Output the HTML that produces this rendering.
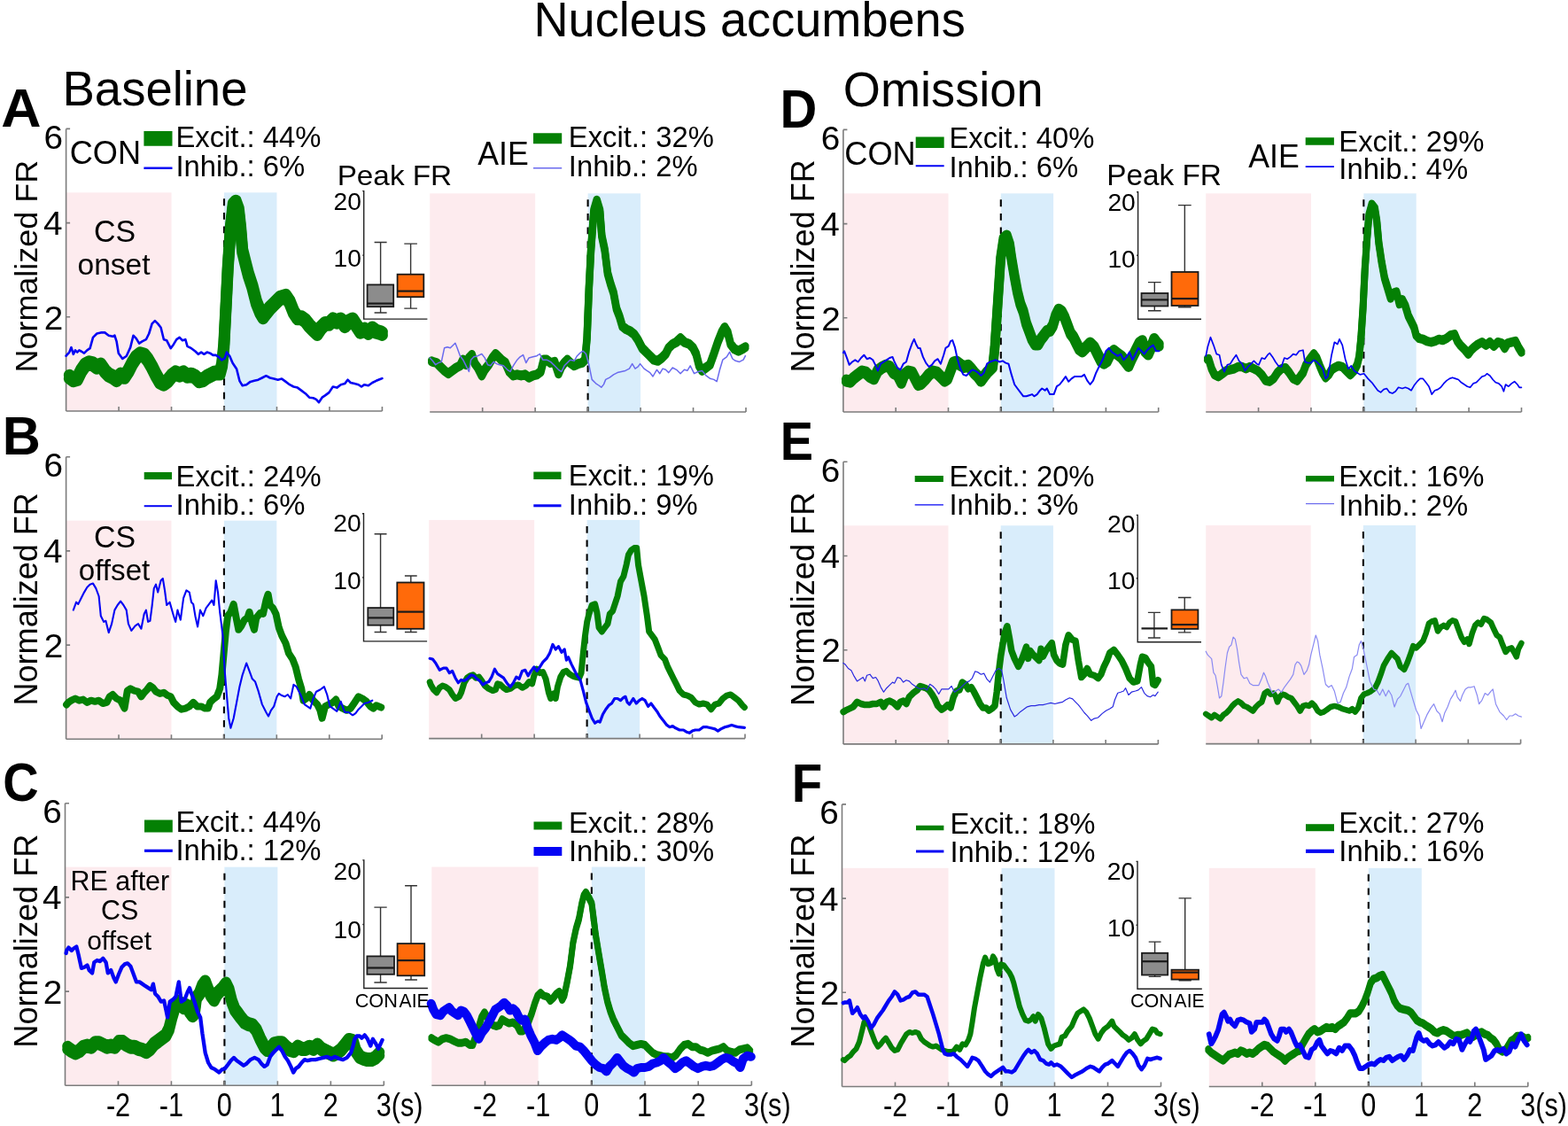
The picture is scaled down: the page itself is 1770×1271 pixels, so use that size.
<!DOCTYPE html>
<html><head><meta charset="utf-8"><style>
html,body{margin:0;padding:0;background:#fff;}
svg{display:block;}
text{font-family:"Liberation Sans", Arial, sans-serif;}
</style></head><body>
<svg width="1770" height="1271" viewBox="0 0 1770 1271">
<rect width="1770" height="1271" fill="#fff"/>
<rect x="74.60" y="217.35" width="118.94" height="246.65" fill="#fdebee"/>
<rect x="253.01" y="217.35" width="59.47" height="246.65" fill="#d9edfb"/>
<path d="M253.01,224.35V464.00" stroke="#000" stroke-width="2.1" stroke-dasharray="7.8,7.8" fill="none"/>
<rect x="485.20" y="218.35" width="118.94" height="246.65" fill="#fdebee"/>
<rect x="663.61" y="218.35" width="59.47" height="246.65" fill="#d9edfb"/>
<path d="M663.61,225.35V465.00" stroke="#000" stroke-width="2.1" stroke-dasharray="7.8,7.8" fill="none"/>
<rect x="74.60" y="587.65" width="118.86" height="246.65" fill="#fdebee"/>
<rect x="252.89" y="587.65" width="59.43" height="246.65" fill="#d9edfb"/>
<path d="M252.89,594.65V834.30" stroke="#000" stroke-width="2.1" stroke-dasharray="7.8,7.8" fill="none"/>
<rect x="484.20" y="586.95" width="118.94" height="246.65" fill="#fdebee"/>
<rect x="662.61" y="586.95" width="59.47" height="246.65" fill="#d9edfb"/>
<path d="M662.61,593.95V833.60" stroke="#000" stroke-width="2.1" stroke-dasharray="7.8,7.8" fill="none"/>
<rect x="73.50" y="978.65" width="119.94" height="246.65" fill="#fdebee"/>
<rect x="253.41" y="978.65" width="59.97" height="246.65" fill="#d9edfb"/>
<path d="M253.41,985.65V1225.30" stroke="#000" stroke-width="2.1" stroke-dasharray="7.8,7.8" fill="none"/>
<rect x="487.30" y="978.55" width="120.36" height="246.65" fill="#fdebee"/>
<rect x="667.84" y="978.55" width="60.18" height="246.65" fill="#d9edfb"/>
<path d="M667.84,985.55V1225.20" stroke="#000" stroke-width="2.1" stroke-dasharray="7.8,7.8" fill="none"/>
<rect x="951.90" y="218.35" width="118.60" height="246.65" fill="#fdebee"/>
<rect x="1129.80" y="218.35" width="59.30" height="246.65" fill="#d9edfb"/>
<path d="M1129.80,225.35V465.00" stroke="#000" stroke-width="2.1" stroke-dasharray="7.8,7.8" fill="none"/>
<rect x="1361.20" y="218.35" width="118.76" height="246.65" fill="#fdebee"/>
<rect x="1539.34" y="218.35" width="59.38" height="246.65" fill="#d9edfb"/>
<path d="M1539.34,225.35V465.00" stroke="#000" stroke-width="2.1" stroke-dasharray="7.8,7.8" fill="none"/>
<rect x="952.00" y="593.25" width="118.46" height="246.65" fill="#fdebee"/>
<rect x="1129.69" y="593.25" width="59.23" height="246.65" fill="#d9edfb"/>
<path d="M1129.69,600.25V839.90" stroke="#000" stroke-width="2.1" stroke-dasharray="7.8,7.8" fill="none"/>
<rect x="1361.20" y="592.95" width="118.46" height="246.65" fill="#fdebee"/>
<rect x="1538.89" y="592.95" width="59.23" height="246.65" fill="#d9edfb"/>
<path d="M1538.89,599.95V839.60" stroke="#000" stroke-width="2.1" stroke-dasharray="7.8,7.8" fill="none"/>
<rect x="950.50" y="979.85" width="120.00" height="246.65" fill="#fdebee"/>
<rect x="1130.50" y="979.85" width="60.00" height="246.65" fill="#d9edfb"/>
<path d="M1130.50,986.85V1226.50" stroke="#000" stroke-width="2.1" stroke-dasharray="7.8,7.8" fill="none"/>
<rect x="1364.80" y="979.85" width="120.00" height="246.65" fill="#fdebee"/>
<rect x="1544.80" y="979.85" width="60.00" height="246.65" fill="#d9edfb"/>
<path d="M1544.80,986.85V1226.50" stroke="#000" stroke-width="2.1" stroke-dasharray="7.8,7.8" fill="none"/>
<text transform="translate(602.47,41.20) scale(0.9649,1)" style="font-size:56.09px;" fill="#000" >Nucleus accumbens</text>
<text transform="translate(70.54,119.10) scale(0.9763,1)" style="font-size:55.80px;" fill="#000" >Baseline</text>
<text transform="translate(951.76,119.50) scale(0.9804,1)" style="font-size:55.29px;" fill="#000" >Omission</text>
<text transform="translate(1.23,143.30) scale(1.0201,1)" style="font-size:61.45px;font-weight:bold;" fill="#000" >A</text>
<text transform="translate(2.72,513.20) scale(0.9757,1)" style="font-size:61.16px;font-weight:bold;" fill="#000" >B</text>
<text transform="translate(3.26,904.20) scale(0.9118,1)" style="font-size:61.29px;font-weight:bold;" fill="#000" >C</text>
<text transform="translate(880.44,143.80) scale(0.9465,1)" style="font-size:61.16px;font-weight:bold;" fill="#000" >D</text>
<text transform="translate(880.76,518.60) scale(0.9123,1)" style="font-size:61.30px;font-weight:bold;" fill="#000" >E</text>
<text transform="translate(893.73,905.00) scale(0.9277,1)" style="font-size:60.87px;font-weight:bold;" fill="#000" >F</text>
<text transform="translate(49.84,371.56) scale(1.03,1)" style="font-size:37.6px">2</text>
<text transform="translate(49.07,265.17) scale(1.03,1)" style="font-size:37.6px">4</text>
<text transform="translate(49.46,167.77) scale(1.03,1)" style="font-size:37.6px">6</text>
<text transform="translate(42.20,420.48) rotate(-90)" style="font-size:35.95px">Normalized FR</text>
<text transform="translate(49.84,741.86) scale(1.03,1)" style="font-size:37.6px">2</text>
<text transform="translate(49.07,635.47) scale(1.03,1)" style="font-size:37.6px">4</text>
<text transform="translate(49.46,538.07) scale(1.03,1)" style="font-size:37.6px">6</text>
<text transform="translate(42.20,796.48) rotate(-90)" style="font-size:36.06px">Normalized FR</text>
<text transform="translate(48.74,1132.86) scale(1.03,1)" style="font-size:37.6px">2</text>
<text transform="translate(47.97,1026.47) scale(1.03,1)" style="font-size:37.6px">4</text>
<text transform="translate(48.36,929.07) scale(1.03,1)" style="font-size:37.6px">6</text>
<text transform="translate(42.20,1182.70) rotate(-90)" style="font-size:36.19px">Normalized FR</text>
<text transform="translate(927.14,372.56) scale(1.03,1)" style="font-size:37.6px">2</text>
<text transform="translate(926.37,266.17) scale(1.03,1)" style="font-size:37.6px">4</text>
<text transform="translate(926.76,168.77) scale(1.03,1)" style="font-size:37.6px">6</text>
<text transform="translate(918.70,420.48) rotate(-90)" style="font-size:36.02px">Normalized FR</text>
<text transform="translate(927.24,747.46) scale(1.03,1)" style="font-size:37.6px">2</text>
<text transform="translate(926.47,641.07) scale(1.03,1)" style="font-size:37.6px">4</text>
<text transform="translate(926.86,543.67) scale(1.03,1)" style="font-size:37.6px">6</text>
<text transform="translate(918.70,796.90) rotate(-90)" style="font-size:36.19px">Normalized FR</text>
<text transform="translate(925.74,1134.06) scale(1.03,1)" style="font-size:37.6px">2</text>
<text transform="translate(924.97,1027.67) scale(1.03,1)" style="font-size:37.6px">4</text>
<text transform="translate(925.36,930.27) scale(1.03,1)" style="font-size:37.6px">6</text>
<text transform="translate(918.70,1182.70) rotate(-90)" style="font-size:36.19px">Normalized FR</text>
<text transform="translate(119.92,1259.80) scale(0.81,1)" style="font-size:37.8px">-2</text>
<text transform="translate(179.81,1259.80) scale(0.81,1)" style="font-size:37.8px">-1</text>
<text transform="translate(244.84,1259.80) scale(0.81,1)" style="font-size:37.8px">0</text>
<text transform="translate(304.42,1259.80) scale(0.81,1)" style="font-size:37.8px">1</text>
<text transform="translate(364.85,1259.80) scale(0.81,1)" style="font-size:37.8px">2</text>
<text transform="translate(424.82,1259.80) scale(0.81,1)" style="font-size:37.8px">3(s)</text>
<text transform="translate(533.93,1259.80) scale(0.81,1)" style="font-size:37.8px">-2</text>
<text transform="translate(594.03,1259.80) scale(0.81,1)" style="font-size:37.8px">-1</text>
<text transform="translate(659.27,1259.80) scale(0.81,1)" style="font-size:37.8px">0</text>
<text transform="translate(719.06,1259.80) scale(0.81,1)" style="font-size:37.8px">1</text>
<text transform="translate(779.70,1259.80) scale(0.81,1)" style="font-size:37.8px">2</text>
<text transform="translate(839.88,1259.80) scale(0.81,1)" style="font-size:37.8px">3(s)</text>
<text transform="translate(996.95,1259.80) scale(0.81,1)" style="font-size:37.8px">-2</text>
<text transform="translate(1056.87,1259.80) scale(0.81,1)" style="font-size:37.8px">-1</text>
<text transform="translate(1121.93,1259.80) scale(0.81,1)" style="font-size:37.8px">0</text>
<text transform="translate(1181.54,1259.80) scale(0.81,1)" style="font-size:37.8px">1</text>
<text transform="translate(1242.00,1259.80) scale(0.81,1)" style="font-size:37.8px">2</text>
<text transform="translate(1302.00,1259.80) scale(0.81,1)" style="font-size:37.8px">3(s)</text>
<text transform="translate(1411.25,1259.80) scale(0.81,1)" style="font-size:37.8px">-2</text>
<text transform="translate(1471.17,1259.80) scale(0.81,1)" style="font-size:37.8px">-1</text>
<text transform="translate(1536.23,1259.80) scale(0.81,1)" style="font-size:37.8px">0</text>
<text transform="translate(1595.84,1259.80) scale(0.81,1)" style="font-size:37.8px">1</text>
<text transform="translate(1656.30,1259.80) scale(0.81,1)" style="font-size:37.8px">2</text>
<text transform="translate(1716.30,1259.80) scale(0.81,1)" style="font-size:37.8px">3(s)</text>
<text transform="translate(198.38,166.30) scale(1.0,1)" style="font-size:32.8px">Excit.: 44%</text>
<text transform="translate(198.38,199.00) scale(1.0,1)" style="font-size:32.8px">Inhib.: 6%</text>
<path d="M162.40,156.40H194.50" stroke="#048004" stroke-width="16.8"/>
<path d="M162.40,189.70H194.50" stroke="#0404f4" stroke-width="2.4"/>
<text transform="translate(641.78,166.40) scale(1.0,1)" style="font-size:32.8px">Excit.: 32%</text>
<text transform="translate(641.78,198.60) scale(1.0,1)" style="font-size:32.8px">Inhib.: 2%</text>
<path d="M602.00,156.20H634.20" stroke="#048004" stroke-width="12.0"/>
<path d="M602.00,189.80H634.20" stroke="#6a6aee" stroke-width="1.6"/>
<text transform="translate(198.58,549.20) scale(1.0,1)" style="font-size:32.8px">Excit.: 24%</text>
<text transform="translate(198.58,580.70) scale(1.0,1)" style="font-size:32.8px">Inhib.: 6%</text>
<path d="M162.70,537.10H194.00" stroke="#048004" stroke-width="8.2"/>
<path d="M162.70,571.20H194.00" stroke="#0404f4" stroke-width="2.0"/>
<text transform="translate(641.78,548.10) scale(1.0,1)" style="font-size:32.8px">Excit.: 19%</text>
<text transform="translate(641.78,580.70) scale(1.0,1)" style="font-size:32.8px">Inhib.: 9%</text>
<path d="M602.30,536.80H633.50" stroke="#048004" stroke-width="8.5"/>
<path d="M602.30,570.80H633.50" stroke="#0404f4" stroke-width="3.0"/>
<text transform="translate(198.38,939.40) scale(1.0,1)" style="font-size:32.8px">Excit.: 44%</text>
<text transform="translate(198.38,971.20) scale(1.0,1)" style="font-size:32.8px">Inhib.: 12%</text>
<path d="M163.00,932.50H194.80" stroke="#048004" stroke-width="14.0"/>
<path d="M163.00,960.30H194.80" stroke="#0404f4" stroke-width="3.2"/>
<text transform="translate(641.98,939.50) scale(1.0,1)" style="font-size:32.8px">Excit.: 28%</text>
<text transform="translate(641.98,971.60) scale(1.0,1)" style="font-size:32.8px">Inhib.: 30%</text>
<path d="M602.50,932.00H634.30" stroke="#048004" stroke-width="9.0"/>
<path d="M602.50,960.90H634.30" stroke="#0404f4" stroke-width="10.0"/>
<text transform="translate(1071.38,167.10) scale(1.0,1)" style="font-size:32.8px">Excit.: 40%</text>
<text transform="translate(1071.38,199.70) scale(1.0,1)" style="font-size:32.8px">Inhib.: 6%</text>
<path d="M1033.70,160.80H1065.70" stroke="#048004" stroke-width="12.6"/>
<path d="M1033.70,187.30H1065.70" stroke="#0404f4" stroke-width="2.0"/>
<text transform="translate(1511.28,170.70) scale(1.0,1)" style="font-size:32.8px">Excit.: 29%</text>
<text transform="translate(1511.28,202.00) scale(1.0,1)" style="font-size:32.8px">Inhib.: 4%</text>
<path d="M1473.70,159.60H1505.90" stroke="#048004" stroke-width="8.5"/>
<path d="M1473.70,188.10H1505.90" stroke="#0404f4" stroke-width="1.6"/>
<text transform="translate(1071.48,549.20) scale(1.0,1)" style="font-size:32.8px">Excit.: 20%</text>
<text transform="translate(1071.48,581.10) scale(1.0,1)" style="font-size:32.8px">Inhib.: 3%</text>
<path d="M1032.70,540.60H1064.90" stroke="#048004" stroke-width="7.0"/>
<path d="M1032.70,569.80H1064.90" stroke="#0404f4" stroke-width="1.2"/>
<text transform="translate(1511.28,548.80) scale(1.0,1)" style="font-size:32.8px">Excit.: 16%</text>
<text transform="translate(1511.28,581.80) scale(1.0,1)" style="font-size:32.8px">Inhib.: 2%</text>
<path d="M1474.00,540.30H1506.00" stroke="#048004" stroke-width="6.5"/>
<path d="M1474.00,568.60H1506.00" stroke="#6a6aee" stroke-width="1.2"/>
<text transform="translate(1072.38,941.00) scale(1.0,1)" style="font-size:32.8px">Excit.: 18%</text>
<text transform="translate(1072.38,972.60) scale(1.0,1)" style="font-size:32.8px">Inhib.: 12%</text>
<path d="M1034.00,934.50H1065.40" stroke="#048004" stroke-width="5.5"/>
<path d="M1034.00,961.00H1065.40" stroke="#0404f4" stroke-width="3.0"/>
<text transform="translate(1511.28,940.30) scale(1.0,1)" style="font-size:32.8px">Excit.: 27%</text>
<text transform="translate(1511.28,972.40) scale(1.0,1)" style="font-size:32.8px">Inhib.: 16%</text>
<path d="M1474.00,934.20H1506.00" stroke="#048004" stroke-width="8.0"/>
<path d="M1474.00,960.80H1506.00" stroke="#0404f4" stroke-width="4.2"/>
<text transform="translate(78.79,185.40) scale(0.9652,1)" style="font-size:37.43px;" fill="#000" >CON</text>
<text transform="translate(953.29,186.20) scale(0.9640,1)" style="font-size:37.57px;" fill="#000" >CON</text>
<text transform="translate(539.30,185.50) scale(0.9539,1)" style="font-size:37.39px;" fill="#000" >AIE</text>
<text transform="translate(1409.30,189.30) scale(0.9576,1)" style="font-size:37.25px;" fill="#000" >AIE</text>
<text transform="translate(380.64,208.50) scale(1.0352,1)" style="font-size:32.17px;" fill="#000" >Peak FR</text>
<text transform="translate(1249.13,208.80) scale(1.0140,1)" style="font-size:32.90px;" fill="#000" >Peak FR</text>
<text transform="translate(106.01,272.50) scale(0.9880,1)" style="font-size:34.29px;" fill="#000" >CS</text>
<text transform="translate(87.46,309.60) scale(0.9877,1)" style="font-size:34.00px;" fill="#000" >onset</text>
<text transform="translate(106.01,617.70) scale(0.9759,1)" style="font-size:34.71px;" fill="#000" >CS</text>
<text x="88.77" y="654.60" style="font-size:33.20px;" fill="#000" >offset</text>
<text x="79.57" y="1004.70" style="font-size:30.43px;" fill="#000" >RE after</text>
<text transform="translate(113.98,1038.00) scale(0.9827,1)" style="font-size:31.00px;" fill="#000" >CS</text>
<text x="98.19" y="1071.50" style="font-size:30.00px;" fill="#000" >offset</text>
<path d="M74.60,464.00H431.42M134.07,464.00v-5M193.54,464.00v-5M253.01,464.00v-5M312.48,464.00v-5M371.95,464.00v-5M431.42,464.00v-5M74.60,464.00V145.40M74.60,357.80h4.5M74.60,251.60h4.5M74.60,145.40h4.5" stroke="#7c7c7c" stroke-width="1.6" fill="none"/>
<path d="M485.20,465.00H842.02M544.67,465.00v-5M604.14,465.00v-5M663.61,465.00v-5M723.08,465.00v-5M782.55,465.00v-5M842.02,465.00v-5" stroke="#7c7c7c" stroke-width="1.6" fill="none"/>
<path d="M74.60,834.30H431.18M134.03,834.30v-5M193.46,834.30v-5M252.89,834.30v-5M312.32,834.30v-5M371.75,834.30v-5M431.18,834.30v-5M74.60,834.30V515.70M74.60,728.10h4.5M74.60,621.90h4.5M74.60,515.70h4.5" stroke="#7c7c7c" stroke-width="1.6" fill="none"/>
<path d="M484.20,833.60H841.02M543.67,833.60v-5M603.14,833.60v-5M662.61,833.60v-5M722.08,833.60v-5M781.55,833.60v-5M841.02,833.60v-5" stroke="#7c7c7c" stroke-width="1.6" fill="none"/>
<path d="M73.50,1225.30H433.32M133.47,1225.30v-5M193.44,1225.30v-5M253.41,1225.30v-5M313.38,1225.30v-5M373.35,1225.30v-5M433.32,1225.30v-5M73.50,1225.30V906.70M73.50,1119.10h4.5M73.50,1012.90h4.5M73.50,906.70h4.5" stroke="#7c7c7c" stroke-width="1.6" fill="none"/>
<path d="M487.30,1225.20H848.38M547.48,1225.20v-5M607.66,1225.20v-5M667.84,1225.20v-5M728.02,1225.20v-5M788.20,1225.20v-5M848.38,1225.20v-5" stroke="#7c7c7c" stroke-width="1.6" fill="none"/>
<path d="M951.90,465.00H1307.70M1011.20,465.00v-5M1070.50,465.00v-5M1129.80,465.00v-5M1189.10,465.00v-5M1248.40,465.00v-5M1307.70,465.00v-5M951.90,465.00V146.40M951.90,358.80h4.5M951.90,252.60h4.5M951.90,146.40h4.5" stroke="#7c7c7c" stroke-width="1.6" fill="none"/>
<path d="M1361.20,465.00H1717.48M1420.58,465.00v-5M1479.96,465.00v-5M1539.34,465.00v-5M1598.72,465.00v-5M1658.10,465.00v-5M1717.48,465.00v-5" stroke="#7c7c7c" stroke-width="1.6" fill="none"/>
<path d="M952.00,839.90H1307.38M1011.23,839.90v-5M1070.46,839.90v-5M1129.69,839.90v-5M1188.92,839.90v-5M1248.15,839.90v-5M1307.38,839.90v-5M952.00,839.90V521.30M952.00,733.70h4.5M952.00,627.50h4.5M952.00,521.30h4.5" stroke="#7c7c7c" stroke-width="1.6" fill="none"/>
<path d="M1361.20,839.60H1716.58M1420.43,839.60v-5M1479.66,839.60v-5M1538.89,839.60v-5M1598.12,839.60v-5M1657.35,839.60v-5M1716.58,839.60v-5" stroke="#7c7c7c" stroke-width="1.6" fill="none"/>
<path d="M950.50,1226.50H1310.50M1010.50,1226.50v-5M1070.50,1226.50v-5M1130.50,1226.50v-5M1190.50,1226.50v-5M1250.50,1226.50v-5M1310.50,1226.50v-5M950.50,1226.50V907.90M950.50,1120.30h4.5M950.50,1014.10h4.5M950.50,907.90h4.5" stroke="#7c7c7c" stroke-width="1.6" fill="none"/>
<path d="M1364.80,1226.50H1724.80M1424.80,1226.50v-5M1484.80,1226.50v-5M1544.80,1226.50v-5M1604.80,1226.50v-5M1664.80,1226.50v-5M1724.80,1226.50v-5" stroke="#7c7c7c" stroke-width="1.6" fill="none"/>
<path d="M78.3,423.3 L82.8,426.6 L87.2,425.5 L91.6,416.7 L96.1,410.0 L100.5,407.8 L105.0,408.9 L109.4,412.2 L113.8,410.0 L118.3,416.7 L122.7,421.1 L127.2,423.3 L131.6,426.6 L136.1,421.1 L140.5,423.3 L144.9,416.7 L149.4,407.8 L153.8,401.1 L158.3,397.8 L162.7,398.9 L167.1,404.4 L171.6,412.2 L176.0,421.1 L180.5,428.9 L184.9,431.1 L189.3,427.8 L193.8,422.2 L198.2,418.9 L202.7,421.1 L207.1,418.9 L211.5,422.2 L216.0,421.1 L220.4,423.3 L224.9,427.8 L229.3,426.6 L233.7,423.3 L238.2,421.1 L242.6,418.9 L248.2,418.9 L250.6,410.0 L252.8,387.8 L255.1,343.4 L257.3,299.0 L260.4,254.6 L263.3,229.0 L266.2,226.1 L269.3,234.6 L271.5,254.6 L273.7,281.2 L277.0,294.5 L280.4,307.9 L284.8,321.2 L289.3,338.9 L293.7,350.0 L297.0,355.6 L300.4,351.2 L304.8,345.6 L309.2,341.2 L315.9,334.5 L322.6,332.3 L327.0,338.9 L331.4,350.0 L335.9,356.7 L340.3,356.7 L344.8,360.0 L349.2,365.6 L353.6,370.0 L358.1,374.5 L362.5,367.8 L367.0,363.4 L371.4,363.4 L375.8,358.9 L380.3,361.1 L384.7,358.9 L389.2,365.6 L393.6,361.1 L398.1,358.9 L402.5,365.6 L406.9,372.2 L411.4,370.0 L415.8,373.4 L420.3,368.9 L424.7,372.2 L429.1,373.4 L431.4,374.5" stroke="#048004" stroke-width="12.92" fill="none" stroke-linejoin="round" stroke-linecap="round"/>
<path d="M78.3,427.4 L82.8,430.7 L87.2,429.6 L91.6,420.7 L96.1,414.1 L100.5,411.9 L105.0,413.0 L109.4,416.3 L113.8,414.1 L118.3,420.7 L122.7,425.2 L127.2,427.4 L131.6,430.7 L136.1,425.2 L140.5,427.4 L144.9,420.7 L149.4,411.9 L153.8,405.2 L158.3,401.9 L162.7,403.0 L167.1,408.5 L171.6,416.3 L176.0,425.2 L180.5,432.9 L184.9,435.2 L189.3,431.8 L193.8,426.3 L198.2,423.0 L202.7,425.2 L207.1,423.0 L211.5,426.3 L216.0,425.2 L220.4,427.4 L224.9,431.8 L229.3,430.7 L233.7,427.4 L238.2,425.2 L242.6,423.0 L248.2,423.0 L250.6,414.1 L252.8,391.9 L255.1,347.5 L257.3,303.1 L260.4,258.7 L263.3,233.1 L266.2,230.2 L269.3,238.7 L271.5,258.7 L273.7,285.3 L277.0,298.6 L280.4,311.9 L284.8,325.3 L289.3,343.0 L293.7,354.1 L297.0,359.7 L300.4,355.2 L304.8,349.7 L309.2,345.2 L315.9,338.6 L322.6,336.4 L327.0,343.0 L331.4,354.1 L335.9,360.8 L340.3,360.8 L344.8,364.1 L349.2,369.7 L353.6,374.1 L358.1,378.5 L362.5,371.9 L367.0,367.4 L371.4,367.4 L375.8,363.0 L380.3,365.2 L384.7,363.0 L389.2,369.7 L393.6,365.2 L398.1,363.0 L402.5,369.7 L406.9,376.3 L411.4,374.1 L415.8,377.4 L420.3,373.0 L424.7,376.3 L429.1,377.4 L431.4,378.5" stroke="#048004" stroke-width="12.92" fill="none" stroke-linejoin="round" stroke-linecap="round"/>
<path d="M487.2,406.5 L488.3,407.1 L492.8,408.2 L497.2,412.6 L501.6,417.0 L506.1,420.4 L510.5,417.0 L515.0,413.7 L519.4,411.5 L522.7,404.8 L526.1,410.4 L529.4,402.6 L532.7,399.3 L536.1,409.3 L539.4,413.7 L543.8,422.6 L547.2,415.9 L551.6,410.4 L556.0,402.6 L559.4,398.2 L562.7,401.5 L566.0,404.8 L570.5,408.2 L574.9,418.2 L579.4,422.6 L583.8,421.5 L588.2,422.6 L592.7,421.5 L597.1,424.8 L601.6,422.6 L606.0,421.5 L610.4,418.2 L613.8,404.8 L617.1,404.8 L621.5,408.2 L626.0,407.1 L630.4,420.4 L633.8,412.6 L637.1,408.2 L640.4,404.8 L643.7,408.2 L648.2,411.5 L652.6,409.3 L657.1,408.2 L660.4,404.8 L662.6,380.4 L664.8,324.9 L667.1,280.5 L670.4,236.1 L673.7,225.0 L677.1,236.1 L679.3,265.0 L682.6,280.5 L685.9,307.1 L689.3,319.3 L692.6,329.3 L695.9,347.1 L699.3,356.0 L702.6,367.1 L707.0,370.4 L711.5,372.6 L715.9,376.0 L720.3,382.6 L724.8,391.5 L729.2,396.0 L733.7,400.4 L738.1,404.8 L742.6,405.9 L747.0,402.6 L751.4,398.2 L754.8,391.5 L759.2,387.1 L763.6,384.8 L768.1,380.4 L772.5,384.8 L778.1,387.1 L782.5,391.5 L785.8,398.2 L789.2,411.5 L792.5,417.0 L796.9,413.7 L801.4,410.4 L805.8,398.2 L810.3,384.8 L814.7,373.7 L818.0,368.2 L821.4,373.7 L824.7,387.1 L829.1,392.6 L833.6,394.8 L838.0,392.6 L841.4,390.4" stroke="#048004" stroke-width="8.36" fill="none" stroke-linejoin="round" stroke-linecap="round"/>
<path d="M487.2,409.1 L488.3,409.7 L492.8,410.8 L497.2,415.2 L501.6,419.7 L506.1,423.0 L510.5,419.7 L515.0,416.4 L519.4,414.1 L522.7,407.5 L526.1,413.0 L529.4,405.3 L532.7,401.9 L536.1,411.9 L539.4,416.4 L543.8,425.2 L547.2,418.6 L551.6,413.0 L556.0,405.3 L559.4,400.8 L562.7,404.1 L566.0,407.5 L570.5,410.8 L574.9,420.8 L579.4,425.2 L583.8,424.1 L588.2,425.2 L592.7,424.1 L597.1,427.5 L601.6,425.2 L606.0,424.1 L610.4,420.8 L613.8,407.5 L617.1,407.5 L621.5,410.8 L626.0,409.7 L630.4,423.0 L633.8,415.2 L637.1,410.8 L640.4,407.5 L643.7,410.8 L648.2,414.1 L652.6,411.9 L657.1,410.8 L660.4,407.5 L662.6,383.0 L664.8,327.5 L667.1,283.1 L670.4,238.7 L673.7,227.6 L677.1,238.7 L679.3,267.6 L682.6,283.1 L685.9,309.8 L689.3,322.0 L692.6,332.0 L695.9,349.7 L699.3,358.6 L702.6,369.7 L707.0,373.1 L711.5,375.3 L715.9,378.6 L720.3,385.3 L724.8,394.2 L729.2,398.6 L733.7,403.0 L738.1,407.5 L742.6,408.6 L747.0,405.3 L751.4,400.8 L754.8,394.2 L759.2,389.7 L763.6,387.5 L768.1,383.0 L772.5,387.5 L778.1,389.7 L782.5,394.2 L785.8,400.8 L789.2,414.1 L792.5,419.7 L796.9,416.4 L801.4,413.0 L805.8,400.8 L810.3,387.5 L814.7,376.4 L818.0,370.8 L821.4,376.4 L824.7,389.7 L829.1,395.3 L833.6,397.5 L838.0,395.3 L841.4,393.0" stroke="#048004" stroke-width="8.36" fill="none" stroke-linejoin="round" stroke-linecap="round"/>
<path d="M75.1,795.4 L77.2,792.9 L80.5,790.7 L85.0,788.5 L89.4,790.7 L93.9,789.6 L98.3,792.9 L102.7,790.7 L107.2,791.8 L111.6,790.7 L116.1,794.0 L120.5,792.9 L123.8,786.3 L127.2,784.0 L131.6,788.5 L136.1,790.7 L140.5,799.6 L143.8,779.6 L147.2,777.4 L151.6,779.6 L156.0,780.7 L159.4,786.3 L162.7,781.8 L166.0,778.5 L169.4,774.0 L172.7,776.3 L176.0,780.7 L180.5,782.9 L184.9,781.8 L189.3,785.1 L192.7,786.3 L196.0,792.9 L200.4,797.4 L204.9,800.7 L209.3,799.6 L213.8,797.4 L218.2,792.9 L222.6,797.4 L227.1,797.4 L231.5,799.6 L234.9,799.6 L237.1,792.9 L240.4,789.6 L244.8,786.3 L248.2,777.4 L250.4,761.8 L252.6,737.4 L254.8,713.0 L257.1,695.2 L260.4,690.8 L263.7,681.9 L267.1,699.7 L269.3,710.8 L272.6,706.3 L275.9,699.7 L279.3,697.4 L281.5,690.8 L284.8,704.1 L287.0,710.8 L289.3,697.4 L293.7,691.9 L297.0,693.0 L300.4,677.5 L302.6,670.8 L304.8,683.0 L308.1,686.3 L311.5,693.0 L314.8,708.5 L318.1,717.4 L322.6,726.3 L325.9,737.4 L330.3,744.1 L333.7,752.9 L337.0,766.3 L340.3,777.4 L342.5,790.7 L345.9,788.5 L349.2,784.0 L353.6,790.7 L358.1,795.1 L361.4,801.8 L363.6,810.7 L367.0,797.4 L371.4,795.1 L375.8,792.9 L379.2,789.6 L382.5,797.4 L386.9,799.6 L391.4,801.8 L395.8,799.6 L400.3,792.9 L404.7,786.3 L409.2,788.5 L413.6,791.8 L418.0,797.4 L421.4,799.6 L424.7,796.2 L430.2,798.5" stroke="#048004" stroke-width="8" fill="none" stroke-linejoin="round" stroke-linecap="round"/>
<path d="M485.2,769.9 L486.2,772.9 L489.5,778.5 L492.9,781.8 L496.2,776.3 L499.5,774.0 L502.9,775.2 L507.3,778.5 L510.6,784.0 L514.0,788.5 L518.4,786.3 L520.6,781.8 L524.0,770.7 L527.3,765.2 L530.6,762.9 L533.9,761.8 L537.3,765.2 L540.6,764.1 L543.9,768.5 L547.3,774.0 L551.7,777.4 L556.2,779.6 L559.5,778.5 L561.7,771.8 L565.0,772.9 L568.4,776.3 L571.7,778.5 L576.1,777.4 L580.6,774.0 L585.0,772.9 L589.5,776.3 L593.9,774.0 L597.2,769.6 L600.6,771.8 L602.8,762.9 L606.1,755.2 L609.4,759.6 L612.8,758.5 L616.1,766.3 L619.4,781.8 L621.7,788.5 L625.0,782.9 L627.2,788.5 L629.4,775.2 L632.8,764.1 L636.1,758.5 L639.4,757.4 L642.7,760.7 L646.1,762.9 L649.4,764.1 L653.8,765.2 L656.1,759.6 L658.3,737.4 L660.5,717.4 L662.7,701.9 L664.9,693.0 L668.3,683.0 L671.6,681.9 L673.8,690.8 L676.1,708.5 L679.4,713.0 L682.7,708.5 L686.0,704.1 L688.3,693.0 L691.6,689.7 L694.9,679.7 L697.1,673.0 L700.5,656.4 L703.8,650.8 L707.1,637.5 L709.4,626.4 L712.7,620.8 L716.0,618.6 L718.7,618.6 L720.5,637.5 L723.8,655.3 L727.1,673.0 L730.4,695.2 L732.7,713.0 L736.0,717.4 L739.3,721.9 L742.7,730.7 L746.0,739.6 L750.4,744.1 L753.8,752.9 L757.1,759.6 L760.4,766.3 L763.8,772.9 L767.1,779.6 L771.5,784.0 L776.0,785.1 L780.4,787.4 L784.8,792.9 L789.3,795.1 L793.7,794.0 L798.2,795.1 L802.6,800.7 L807.1,795.1 L811.5,794.0 L815.9,788.5 L820.4,785.1 L824.8,784.0 L829.3,787.4 L833.7,790.7 L838.1,796.2 L840.4,798.5" stroke="#048004" stroke-width="7" fill="none" stroke-linejoin="round" stroke-linecap="round"/>
<path d="M76.3,1180.9 L80.8,1184.2 L85.2,1186.4 L89.6,1184.2 L94.1,1179.8 L98.5,1178.7 L103.0,1179.8 L107.4,1175.3 L111.8,1175.3 L116.3,1177.6 L120.7,1179.8 L125.2,1178.7 L129.6,1179.8 L134.1,1174.2 L138.5,1174.2 L142.9,1177.6 L147.4,1179.8 L151.8,1179.8 L156.3,1182.0 L160.7,1183.1 L165.1,1185.3 L169.6,1182.0 L174.0,1176.4 L178.5,1173.1 L182.9,1169.8 L187.3,1166.5 L190.7,1159.8 L194.0,1146.5 L197.3,1135.4 L200.7,1128.7 L204.0,1130.9 L207.3,1135.4 L210.7,1133.1 L214.0,1139.8 L217.3,1144.2 L219.5,1142.0 L221.8,1124.3 L225.1,1119.8 L228.4,1110.9 L231.7,1106.5 L235.1,1115.4 L238.4,1122.0 L241.7,1126.5 L245.1,1119.8 L248.4,1116.5 L251.7,1113.2 L255.1,1108.7 L258.4,1115.4 L261.7,1128.7 L265.1,1137.6 L268.4,1142.0 L271.7,1146.5 L276.2,1152.0 L280.6,1154.2 L285.0,1155.4 L289.5,1160.9 L293.9,1170.9 L298.4,1179.8 L301.7,1183.1 L305.0,1182.0 L309.5,1176.4 L313.9,1175.3 L318.3,1175.3 L322.8,1179.8 L327.2,1183.1 L331.7,1184.2 L336.1,1179.8 L340.5,1182.0 L345.0,1182.0 L349.4,1179.8 L353.9,1182.0 L358.3,1177.6 L362.7,1182.0 L367.2,1184.2 L371.6,1186.4 L376.1,1188.7 L380.5,1186.4 L384.9,1183.1 L389.4,1177.6 L393.8,1172.0 L398.3,1173.1 L401.6,1184.2 L406.0,1190.9 L410.5,1193.1 L414.9,1194.2 L419.4,1194.2 L423.8,1192.0 L428.2,1187.5" stroke="#048004" stroke-width="12.16" fill="none" stroke-linejoin="round" stroke-linecap="round"/>
<path d="M76.3,1184.7 L80.8,1188.1 L85.2,1190.3 L89.6,1188.1 L94.1,1183.6 L98.5,1182.5 L103.0,1183.6 L107.4,1179.2 L111.8,1179.2 L116.3,1181.4 L120.7,1183.6 L125.2,1182.5 L129.6,1183.6 L134.1,1178.1 L138.5,1178.1 L142.9,1181.4 L147.4,1183.6 L151.8,1183.6 L156.3,1185.8 L160.7,1186.9 L165.1,1189.2 L169.6,1185.8 L174.0,1180.3 L178.5,1177.0 L182.9,1173.6 L187.3,1170.3 L190.7,1163.6 L194.0,1150.3 L197.3,1139.2 L200.7,1132.5 L204.0,1134.8 L207.3,1139.2 L210.7,1137.0 L214.0,1143.6 L217.3,1148.1 L219.5,1145.9 L221.8,1128.1 L225.1,1123.7 L228.4,1114.8 L231.7,1110.3 L235.1,1119.2 L238.4,1125.9 L241.7,1130.3 L245.1,1123.7 L248.4,1120.3 L251.7,1117.0 L255.1,1112.6 L258.4,1119.2 L261.7,1132.5 L265.1,1141.4 L268.4,1145.9 L271.7,1150.3 L276.2,1155.9 L280.6,1158.1 L285.0,1159.2 L289.5,1164.7 L293.9,1174.7 L298.4,1183.6 L301.7,1186.9 L305.0,1185.8 L309.5,1180.3 L313.9,1179.2 L318.3,1179.2 L322.8,1183.6 L327.2,1186.9 L331.7,1188.1 L336.1,1183.6 L340.5,1185.8 L345.0,1185.8 L349.4,1183.6 L353.9,1185.8 L358.3,1181.4 L362.7,1185.8 L367.2,1188.1 L371.6,1190.3 L376.1,1192.5 L380.5,1190.3 L384.9,1186.9 L389.4,1181.4 L393.8,1175.8 L398.3,1177.0 L401.6,1188.1 L406.0,1194.7 L410.5,1196.9 L414.9,1198.0 L419.4,1198.0 L423.8,1195.8 L428.2,1191.4" stroke="#048004" stroke-width="12.16" fill="none" stroke-linejoin="round" stroke-linecap="round"/>
<path d="M487.0,1170.6 L490.3,1172.8 L494.8,1175.1 L499.2,1171.7 L503.6,1170.6 L508.1,1171.7 L512.5,1174.0 L517.0,1176.2 L521.4,1176.2 L525.8,1175.1 L530.3,1178.4 L533.6,1178.4 L536.9,1168.4 L540.3,1158.4 L543.6,1147.3 L546.9,1141.8 L550.3,1147.3 L553.6,1154.0 L556.9,1156.2 L560.3,1157.3 L563.6,1156.2 L566.9,1149.5 L570.3,1151.8 L574.7,1154.0 L579.1,1152.9 L583.6,1156.2 L586.9,1162.9 L590.2,1162.9 L593.6,1157.3 L596.9,1151.8 L600.2,1142.9 L603.6,1131.8 L606.9,1122.9 L610.2,1119.6 L613.6,1122.9 L618.0,1124.0 L621.3,1128.4 L624.7,1125.1 L628.0,1120.7 L631.3,1118.4 L634.6,1127.3 L636.9,1122.9 L640.2,1107.3 L643.5,1089.6 L646.9,1062.9 L650.2,1047.4 L653.5,1036.3 L656.8,1018.5 L659.1,1009.6 L661.3,1006.3 L664.6,1011.9 L667.9,1018.5 L670.2,1036.3 L672.4,1054.1 L675.7,1074.0 L679.1,1094.0 L682.4,1114.0 L685.7,1129.5 L689.0,1140.6 L692.4,1149.5 L696.8,1158.4 L701.3,1167.3 L705.7,1171.7 L710.1,1176.2 L714.6,1179.5 L719.0,1178.4 L723.5,1177.3 L727.9,1178.4 L732.3,1182.8 L736.8,1187.3 L741.2,1189.5 L745.7,1190.6 L750.1,1191.7 L754.5,1191.7 L759.0,1192.8 L763.4,1189.5 L767.9,1182.8 L772.3,1178.4 L776.7,1177.3 L781.2,1180.6 L785.6,1180.6 L790.1,1183.9 L794.5,1185.1 L798.9,1187.3 L803.4,1185.1 L807.8,1183.9 L812.3,1182.8 L816.7,1180.6 L821.2,1185.1 L825.6,1186.2 L830.0,1187.3 L834.5,1183.9 L838.9,1182.8 L843.4,1181.7 L846.7,1185.1" stroke="#048004" stroke-width="6.84" fill="none" stroke-linejoin="round" stroke-linecap="round"/>
<path d="M487.0,1172.8 L490.3,1175.0 L494.8,1177.2 L499.2,1173.9 L503.6,1172.8 L508.1,1173.9 L512.5,1176.1 L517.0,1178.3 L521.4,1178.3 L525.8,1177.2 L530.3,1180.6 L533.6,1180.6 L536.9,1170.6 L540.3,1160.6 L543.6,1149.5 L546.9,1143.9 L550.3,1149.5 L553.6,1156.1 L556.9,1158.4 L560.3,1159.5 L563.6,1158.4 L566.9,1151.7 L570.3,1153.9 L574.7,1156.1 L579.1,1155.0 L583.6,1158.4 L586.9,1165.0 L590.2,1165.0 L593.6,1159.5 L596.9,1153.9 L600.2,1145.0 L603.6,1133.9 L606.9,1125.0 L610.2,1121.7 L613.6,1125.0 L618.0,1126.2 L621.3,1130.6 L624.7,1127.3 L628.0,1122.8 L631.3,1120.6 L634.6,1129.5 L636.9,1125.0 L640.2,1109.5 L643.5,1091.7 L646.9,1065.1 L650.2,1049.6 L653.5,1038.5 L656.8,1020.7 L659.1,1011.8 L661.3,1008.5 L664.6,1014.0 L667.9,1020.7 L670.2,1038.5 L672.4,1056.2 L675.7,1076.2 L679.1,1096.2 L682.4,1116.2 L685.7,1131.7 L689.0,1142.8 L692.4,1151.7 L696.8,1160.6 L701.3,1169.5 L705.7,1173.9 L710.1,1178.3 L714.6,1181.7 L719.0,1180.6 L723.5,1179.4 L727.9,1180.6 L732.3,1185.0 L736.8,1189.4 L741.2,1191.7 L745.7,1192.8 L750.1,1193.9 L754.5,1193.9 L759.0,1195.0 L763.4,1191.7 L767.9,1185.0 L772.3,1180.6 L776.7,1179.4 L781.2,1182.8 L785.6,1182.8 L790.1,1186.1 L794.5,1187.2 L798.9,1189.4 L803.4,1187.2 L807.8,1186.1 L812.3,1185.0 L816.7,1182.8 L821.2,1187.2 L825.6,1188.3 L830.0,1189.4 L834.5,1186.1 L838.9,1185.0 L843.4,1183.9 L846.7,1187.2" stroke="#048004" stroke-width="6.84" fill="none" stroke-linejoin="round" stroke-linecap="round"/>
<path d="M955.3,427.9 L959.8,429.0 L964.2,424.6 L968.6,421.2 L973.1,417.9 L977.5,419.0 L982.0,423.5 L986.4,425.7 L990.8,416.8 L995.3,413.5 L999.7,411.2 L1004.2,412.4 L1008.6,419.0 L1013.1,421.2 L1017.5,430.1 L1020.8,421.2 L1025.3,417.9 L1029.7,419.0 L1033.0,425.7 L1036.4,432.3 L1039.7,431.2 L1044.1,426.8 L1048.6,421.2 L1053.0,417.9 L1057.5,419.0 L1061.9,423.5 L1066.3,427.9 L1069.7,425.7 L1073.0,416.8 L1076.3,407.9 L1079.7,406.8 L1084.1,410.1 L1088.5,412.4 L1093.0,411.2 L1096.3,414.6 L1099.6,419.0 L1104.1,423.5 L1107.4,427.9 L1110.7,423.5 L1114.1,419.0 L1117.4,415.7 L1120.7,412.4 L1123.0,390.2 L1125.2,356.8 L1127.4,323.5 L1129.6,290.2 L1132.9,268.0 L1136.3,264.7 L1139.6,274.7 L1141.8,290.2 L1145.2,310.2 L1148.5,328.0 L1151.8,341.3 L1155.2,350.2 L1158.5,363.5 L1161.8,372.4 L1165.1,381.3 L1168.5,386.8 L1171.8,386.8 L1175.1,381.3 L1178.5,376.8 L1181.8,372.4 L1185.1,371.3 L1188.5,365.7 L1191.8,354.6 L1195.1,348.0 L1198.4,350.2 L1201.8,356.8 L1205.1,365.7 L1208.4,374.6 L1211.8,379.0 L1215.1,385.7 L1218.4,392.4 L1221.8,394.6 L1226.2,390.2 L1230.6,385.7 L1235.1,390.2 L1239.5,399.0 L1242.9,405.7 L1246.2,407.9 L1249.5,405.7 L1252.8,399.0 L1257.3,394.6 L1261.7,397.9 L1266.2,401.3 L1270.6,406.8 L1273.9,411.2 L1277.3,403.5 L1281.7,394.6 L1286.2,385.7 L1289.5,383.5 L1292.8,394.6 L1296.1,397.9 L1299.5,390.2 L1302.8,381.3 L1306.1,385.7 L1308.4,387.9" stroke="#048004" stroke-width="10.64" fill="none" stroke-linejoin="round" stroke-linecap="round"/>
<path d="M955.3,431.3 L959.8,432.4 L964.2,427.9 L968.6,424.6 L973.1,421.3 L977.5,422.4 L982.0,426.8 L986.4,429.0 L990.8,420.2 L995.3,416.8 L999.7,414.6 L1004.2,415.7 L1008.6,422.4 L1013.1,424.6 L1017.5,433.5 L1020.8,424.6 L1025.3,421.3 L1029.7,422.4 L1033.0,429.0 L1036.4,435.7 L1039.7,434.6 L1044.1,430.1 L1048.6,424.6 L1053.0,421.3 L1057.5,422.4 L1061.9,426.8 L1066.3,431.3 L1069.7,429.0 L1073.0,420.2 L1076.3,411.3 L1079.7,410.2 L1084.1,413.5 L1088.5,415.7 L1093.0,414.6 L1096.3,417.9 L1099.6,422.4 L1104.1,426.8 L1107.4,431.3 L1110.7,426.8 L1114.1,422.4 L1117.4,419.0 L1120.7,415.7 L1123.0,393.5 L1125.2,360.2 L1127.4,326.9 L1129.6,293.6 L1132.9,271.4 L1136.3,268.1 L1139.6,278.1 L1141.8,293.6 L1145.2,313.6 L1148.5,331.3 L1151.8,344.7 L1155.2,353.5 L1158.5,366.9 L1161.8,375.7 L1165.1,384.6 L1168.5,390.2 L1171.8,390.2 L1175.1,384.6 L1178.5,380.2 L1181.8,375.7 L1185.1,374.6 L1188.5,369.1 L1191.8,358.0 L1195.1,351.3 L1198.4,353.5 L1201.8,360.2 L1205.1,369.1 L1208.4,378.0 L1211.8,382.4 L1215.1,389.1 L1218.4,395.7 L1221.8,398.0 L1226.2,393.5 L1230.6,389.1 L1235.1,393.5 L1239.5,402.4 L1242.9,409.1 L1246.2,411.3 L1249.5,409.1 L1252.8,402.4 L1257.3,398.0 L1261.7,401.3 L1266.2,404.6 L1270.6,410.2 L1273.9,414.6 L1277.3,406.8 L1281.7,398.0 L1286.2,389.1 L1289.5,386.8 L1292.8,398.0 L1296.1,401.3 L1299.5,393.5 L1302.8,384.6 L1306.1,389.1 L1308.4,391.3" stroke="#048004" stroke-width="10.64" fill="none" stroke-linejoin="round" stroke-linecap="round"/>
<path d="M1363.0,404.3 L1364.3,403.9 L1367.7,415.0 L1371.0,421.7 L1375.4,423.9 L1379.9,420.5 L1384.3,417.2 L1388.7,416.1 L1393.2,415.0 L1397.6,412.8 L1402.1,412.8 L1406.5,415.0 L1410.9,412.8 L1415.4,415.0 L1419.8,417.2 L1424.3,421.7 L1428.7,428.3 L1433.2,429.4 L1437.6,426.1 L1442.0,419.4 L1446.5,415.0 L1450.9,413.9 L1455.4,419.4 L1459.8,426.1 L1464.2,428.3 L1467.6,423.9 L1470.9,419.4 L1474.2,410.6 L1478.7,403.9 L1483.1,398.3 L1486.4,402.8 L1489.8,411.7 L1493.1,419.4 L1496.4,425.0 L1499.8,421.7 L1503.1,416.1 L1506.4,413.9 L1510.9,411.7 L1515.3,412.8 L1519.7,417.2 L1524.2,421.7 L1528.6,417.2 L1532.0,410.6 L1534.2,401.7 L1536.4,379.5 L1538.6,346.2 L1540.8,301.8 L1543.1,268.5 L1545.3,241.8 L1548.6,229.6 L1551.9,234.0 L1554.2,248.5 L1556.4,272.9 L1559.7,295.1 L1563.0,312.9 L1566.4,324.0 L1569.7,335.1 L1573.0,329.5 L1576.4,328.4 L1579.7,341.7 L1583.0,337.3 L1586.4,343.9 L1589.7,355.0 L1593.0,361.7 L1596.3,368.4 L1598.6,377.2 L1601.9,380.6 L1606.3,381.7 L1610.8,383.9 L1615.2,385.0 L1619.7,383.9 L1624.1,381.7 L1628.5,382.8 L1633.0,380.6 L1637.4,377.2 L1641.9,376.1 L1645.2,383.9 L1648.5,388.4 L1653.0,392.8 L1657.4,398.3 L1660.7,393.9 L1664.1,390.6 L1668.5,387.2 L1672.9,385.0 L1677.4,388.4 L1681.8,385.0 L1686.3,389.5 L1690.7,385.0 L1695.2,386.1 L1698.5,391.7 L1701.8,386.1 L1706.3,385.0 L1710.7,383.9 L1714.0,390.6 L1717.4,396.1" stroke="#048004" stroke-width="7.98" fill="none" stroke-linejoin="round" stroke-linecap="round"/>
<path d="M1363.0,406.9 L1364.3,406.4 L1367.7,417.5 L1371.0,424.2 L1375.4,426.4 L1379.9,423.1 L1384.3,419.7 L1388.7,418.6 L1393.2,417.5 L1397.6,415.3 L1402.1,415.3 L1406.5,417.5 L1410.9,415.3 L1415.4,417.5 L1419.8,419.7 L1424.3,424.2 L1428.7,430.8 L1433.2,431.9 L1437.6,428.6 L1442.0,422.0 L1446.5,417.5 L1450.9,416.4 L1455.4,422.0 L1459.8,428.6 L1464.2,430.8 L1467.6,426.4 L1470.9,422.0 L1474.2,413.1 L1478.7,406.4 L1483.1,400.9 L1486.4,405.3 L1489.8,414.2 L1493.1,422.0 L1496.4,427.5 L1499.8,424.2 L1503.1,418.6 L1506.4,416.4 L1510.9,414.2 L1515.3,415.3 L1519.7,419.7 L1524.2,424.2 L1528.6,419.7 L1532.0,413.1 L1534.2,404.2 L1536.4,382.0 L1538.6,348.7 L1540.8,304.3 L1543.1,271.0 L1545.3,244.3 L1548.6,232.1 L1551.9,236.6 L1554.2,251.0 L1556.4,275.4 L1559.7,297.6 L1563.0,315.4 L1566.4,326.5 L1569.7,337.6 L1573.0,332.0 L1576.4,330.9 L1579.7,344.2 L1583.0,339.8 L1586.4,346.5 L1589.7,357.6 L1593.0,364.2 L1596.3,370.9 L1598.6,379.8 L1601.9,383.1 L1606.3,384.2 L1610.8,386.4 L1615.2,387.5 L1619.7,386.4 L1624.1,384.2 L1628.5,385.3 L1633.0,383.1 L1637.4,379.8 L1641.9,378.7 L1645.2,386.4 L1648.5,390.9 L1653.0,395.3 L1657.4,400.9 L1660.7,396.4 L1664.1,393.1 L1668.5,389.8 L1672.9,387.5 L1677.4,390.9 L1681.8,387.5 L1686.3,392.0 L1690.7,387.5 L1695.2,388.6 L1698.5,394.2 L1701.8,388.6 L1706.3,387.5 L1710.7,386.4 L1714.0,393.1 L1717.4,398.6" stroke="#048004" stroke-width="7.98" fill="none" stroke-linejoin="round" stroke-linecap="round"/>
<path d="M952.1,803.5 L954.2,802.2 L958.7,800.0 L963.1,797.8 L967.5,792.3 L972.0,794.5 L976.4,795.6 L980.9,795.6 L985.3,794.5 L989.7,794.5 L994.2,792.3 L997.5,797.8 L1000.8,792.3 L1004.2,791.1 L1008.6,793.4 L1013.1,797.8 L1016.4,792.3 L1019.7,791.1 L1023.0,794.5 L1026.4,786.7 L1030.8,782.3 L1035.3,778.9 L1038.6,774.5 L1041.9,775.6 L1045.2,776.7 L1048.6,778.9 L1051.9,783.4 L1055.2,788.9 L1058.6,796.7 L1063.0,801.1 L1066.3,798.9 L1069.7,795.6 L1073.0,798.9 L1076.3,786.7 L1079.7,780.0 L1083.0,778.9 L1086.3,770.1 L1089.7,772.3 L1093.0,777.8 L1096.3,775.6 L1099.6,781.2 L1103.0,787.8 L1106.3,794.5 L1109.6,798.9 L1113.0,798.9 L1116.3,802.2 L1119.6,800.0 L1123.0,796.7 L1125.2,781.2 L1127.4,758.9 L1129.6,741.2 L1131.8,727.9 L1134.1,714.5 L1136.9,706.8 L1139.6,721.2 L1141.8,734.5 L1145.2,743.4 L1149.6,752.3 L1152.9,745.6 L1156.3,736.7 L1158.5,730.1 L1160.7,743.4 L1162.9,734.5 L1166.3,739.0 L1169.6,742.3 L1172.9,745.6 L1175.1,732.3 L1177.4,741.2 L1180.7,734.5 L1184.0,730.1 L1187.3,725.6 L1189.6,739.0 L1192.9,745.6 L1196.2,749.0 L1199.6,750.1 L1202.9,727.9 L1206.2,716.8 L1210.7,722.3 L1214.0,723.4 L1217.3,745.6 L1220.7,764.5 L1224.0,761.2 L1227.3,754.5 L1230.6,761.2 L1235.1,762.3 L1239.5,765.6 L1242.9,761.2 L1246.2,752.3 L1249.5,745.6 L1252.8,736.7 L1257.3,733.4 L1261.7,739.0 L1266.2,745.6 L1270.6,754.5 L1275.1,765.6 L1279.5,770.1 L1283.9,768.9 L1287.3,750.1 L1289.5,741.2 L1292.8,742.3 L1296.1,747.8 L1299.5,752.3 L1301.7,772.3 L1303.9,773.4 L1307.2,767.8" stroke="#048004" stroke-width="7.5" fill="none" stroke-linejoin="round" stroke-linecap="round"/>
<path d="M1361.2,805.9 L1364.3,808.0 L1367.7,810.2 L1371.0,806.9 L1374.3,809.1 L1377.6,811.3 L1381.0,806.9 L1384.3,804.7 L1387.6,801.4 L1391.0,796.9 L1394.3,793.6 L1397.6,791.4 L1401.0,793.6 L1404.3,796.9 L1407.6,798.0 L1410.9,800.2 L1414.3,802.5 L1417.6,798.0 L1420.9,794.7 L1424.3,792.5 L1427.6,782.5 L1430.9,780.3 L1434.3,783.6 L1437.6,782.5 L1439.8,785.8 L1442.0,792.5 L1444.3,786.9 L1447.6,783.6 L1450.9,784.7 L1454.2,786.9 L1457.6,788.0 L1460.9,792.5 L1464.2,796.9 L1467.6,802.5 L1470.9,796.9 L1474.2,795.8 L1477.6,796.9 L1480.9,793.6 L1484.2,796.9 L1487.6,802.5 L1490.9,804.7 L1494.2,803.6 L1497.5,801.4 L1502.0,798.0 L1506.4,796.9 L1510.9,798.0 L1515.3,800.2 L1519.7,801.4 L1523.1,802.5 L1526.4,800.2 L1529.7,803.6 L1533.1,799.1 L1536.4,788.0 L1539.7,783.6 L1543.1,782.5 L1547.5,780.3 L1551.9,776.9 L1555.3,770.3 L1558.6,761.4 L1561.9,751.4 L1566.4,743.6 L1570.8,737.0 L1574.1,740.3 L1577.5,743.6 L1580.8,752.5 L1585.2,755.8 L1588.6,748.1 L1591.9,739.2 L1595.2,729.2 L1598.6,731.4 L1601.9,728.1 L1606.3,723.6 L1609.7,714.8 L1613.0,703.7 L1616.3,701.4 L1619.7,700.3 L1623.0,712.5 L1626.3,708.1 L1629.7,705.9 L1633.0,708.1 L1636.3,702.6 L1639.6,700.3 L1643.0,701.4 L1646.3,710.3 L1649.6,719.2 L1653.0,724.8 L1656.3,721.4 L1658.5,727.0 L1661.8,714.8 L1665.2,705.9 L1668.5,702.6 L1671.8,704.8 L1675.2,698.1 L1678.5,699.2 L1682.9,702.6 L1686.3,710.3 L1689.6,717.0 L1692.9,719.2 L1696.3,728.1 L1699.6,735.9 L1702.9,732.5 L1706.3,731.4 L1709.6,737.0 L1711.8,741.4 L1714.0,732.5 L1717.4,725.9" stroke="#048004" stroke-width="6.5" fill="none" stroke-linejoin="round" stroke-linecap="round"/>
<path d="M951.9,1196.2 L953.3,1197.1 L956.7,1193.8 L960.0,1191.6 L963.3,1187.1 L966.6,1183.8 L970.0,1176.0 L973.3,1162.7 L975.5,1153.8 L977.7,1152.7 L981.1,1158.3 L984.4,1167.2 L987.7,1176.0 L991.1,1181.6 L994.4,1178.3 L997.7,1173.8 L999.9,1171.6 L1003.3,1177.1 L1006.6,1182.7 L1009.9,1186.0 L1013.3,1184.9 L1016.6,1178.3 L1019.9,1172.7 L1023.3,1167.2 L1026.6,1164.9 L1029.9,1166.0 L1033.3,1164.9 L1036.6,1166.0 L1039.9,1172.7 L1043.2,1176.0 L1046.6,1178.3 L1049.9,1180.5 L1053.2,1181.6 L1056.6,1180.5 L1059.9,1182.7 L1063.2,1184.9 L1066.6,1186.0 L1069.9,1187.1 L1073.2,1187.1 L1076.6,1186.0 L1079.9,1181.6 L1083.2,1184.9 L1086.5,1178.3 L1089.9,1179.4 L1093.2,1173.8 L1095.4,1167.2 L1097.6,1153.8 L1099.9,1138.3 L1103.2,1120.5 L1106.5,1102.8 L1109.9,1087.2 L1112.1,1080.6 L1115.4,1088.3 L1118.7,1087.2 L1121.0,1079.4 L1123.2,1082.8 L1125.4,1093.9 L1127.6,1099.4 L1129.8,1088.3 L1133.2,1089.4 L1136.5,1093.9 L1139.8,1098.3 L1142.1,1102.8 L1144.3,1109.4 L1147.6,1122.7 L1150.9,1136.1 L1154.3,1144.9 L1157.6,1151.6 L1160.9,1152.7 L1164.3,1150.5 L1166.5,1147.2 L1168.7,1152.7 L1172.0,1144.9 L1175.4,1149.4 L1178.7,1160.5 L1180.9,1169.4 L1183.1,1178.3 L1186.5,1183.8 L1189.8,1180.5 L1193.1,1179.4 L1196.4,1178.3 L1198.7,1170.5 L1202.0,1169.4 L1205.3,1163.8 L1209.8,1158.3 L1213.1,1150.5 L1216.4,1143.8 L1219.8,1141.6 L1223.1,1139.4 L1226.4,1142.7 L1229.8,1149.4 L1233.1,1158.3 L1236.4,1167.2 L1239.7,1172.7 L1243.1,1166.0 L1246.4,1161.6 L1250.8,1158.3 L1255.3,1152.7 L1257.5,1158.3 L1260.8,1161.6 L1264.2,1164.9 L1267.5,1168.3 L1270.8,1170.5 L1274.2,1173.8 L1277.5,1171.6 L1280.8,1167.2 L1284.2,1173.8 L1287.5,1178.3 L1290.8,1174.9 L1294.1,1172.7 L1297.5,1167.2 L1300.8,1161.6 L1304.1,1162.7 L1306.4,1166.0 L1309.7,1167.2" stroke="#048004" stroke-width="6" fill="none" stroke-linejoin="round" stroke-linecap="round"/>
<path d="M1364.0,1183.8 L1367.3,1187.1 L1370.7,1189.4 L1374.0,1191.6 L1377.3,1193.8 L1380.6,1196.0 L1384.0,1192.7 L1387.3,1189.4 L1390.6,1188.3 L1394.0,1187.1 L1397.3,1188.3 L1400.6,1184.9 L1404.0,1186.0 L1407.3,1188.3 L1410.6,1187.1 L1413.9,1188.3 L1417.3,1186.0 L1420.6,1182.7 L1423.9,1180.5 L1427.3,1178.3 L1430.6,1179.4 L1433.9,1182.7 L1437.3,1186.0 L1440.6,1188.3 L1443.9,1190.5 L1447.3,1192.7 L1450.6,1196.0 L1453.9,1192.7 L1457.2,1190.5 L1460.6,1188.3 L1463.9,1186.0 L1467.2,1184.9 L1470.6,1177.2 L1473.9,1171.6 L1477.2,1166.0 L1480.6,1162.7 L1483.9,1160.5 L1487.2,1163.8 L1490.6,1162.7 L1493.9,1160.5 L1497.2,1158.3 L1500.5,1159.4 L1503.9,1158.3 L1507.2,1160.5 L1510.5,1157.2 L1513.9,1154.9 L1517.2,1152.7 L1520.5,1148.3 L1523.9,1142.7 L1527.2,1142.7 L1530.5,1142.7 L1533.8,1140.5 L1537.2,1135.0 L1540.5,1128.3 L1543.8,1119.4 L1547.2,1108.3 L1550.5,1103.9 L1553.8,1102.8 L1557.2,1100.5 L1560.5,1099.4 L1563.8,1106.1 L1567.2,1112.8 L1570.5,1119.4 L1573.8,1128.3 L1577.1,1133.9 L1580.5,1137.2 L1584.9,1138.3 L1589.4,1139.4 L1592.7,1141.6 L1596.0,1146.1 L1599.3,1150.5 L1602.7,1152.7 L1606.0,1153.8 L1609.3,1156.1 L1612.7,1158.3 L1616.0,1160.5 L1619.3,1163.8 L1622.7,1164.9 L1626.0,1162.7 L1629.3,1161.6 L1632.7,1162.7 L1636.0,1164.9 L1639.3,1167.2 L1642.6,1168.3 L1646.0,1167.2 L1649.3,1167.2 L1652.6,1166.0 L1656.0,1164.9 L1659.3,1168.3 L1662.6,1169.4 L1666.0,1167.2 L1669.3,1164.9 L1672.6,1163.8 L1675.9,1166.0 L1679.3,1167.2 L1682.6,1170.5 L1685.9,1172.7 L1689.3,1177.2 L1692.6,1183.8 L1695.9,1186.0 L1699.3,1184.9 L1702.6,1179.4 L1705.9,1173.8 L1709.3,1171.6 L1712.6,1168.3 L1715.9,1168.3 L1719.2,1169.4 L1722.6,1171.6 L1724.8,1170.5" stroke="#048004" stroke-width="6.99" fill="none" stroke-linejoin="round" stroke-linecap="round"/>
<path d="M1364.0,1186.0 L1367.3,1189.3 L1370.7,1191.6 L1374.0,1193.8 L1377.3,1196.0 L1380.6,1198.2 L1384.0,1194.9 L1387.3,1191.6 L1390.6,1190.5 L1394.0,1189.3 L1397.3,1190.5 L1400.6,1187.1 L1404.0,1188.2 L1407.3,1190.5 L1410.6,1189.3 L1413.9,1190.5 L1417.3,1188.2 L1420.6,1184.9 L1423.9,1182.7 L1427.3,1180.5 L1430.6,1181.6 L1433.9,1184.9 L1437.3,1188.2 L1440.6,1190.5 L1443.9,1192.7 L1447.3,1194.9 L1450.6,1198.2 L1453.9,1194.9 L1457.2,1192.7 L1460.6,1190.5 L1463.9,1188.2 L1467.2,1187.1 L1470.6,1179.4 L1473.9,1173.8 L1477.2,1168.3 L1480.6,1164.9 L1483.9,1162.7 L1487.2,1166.0 L1490.6,1164.9 L1493.9,1162.7 L1497.2,1160.5 L1500.5,1161.6 L1503.9,1160.5 L1507.2,1162.7 L1510.5,1159.4 L1513.9,1157.2 L1517.2,1154.9 L1520.5,1150.5 L1523.9,1144.9 L1527.2,1144.9 L1530.5,1144.9 L1533.8,1142.7 L1537.2,1137.2 L1540.5,1130.5 L1543.8,1121.6 L1547.2,1110.5 L1550.5,1106.1 L1553.8,1105.0 L1557.2,1102.8 L1560.5,1101.6 L1563.8,1108.3 L1567.2,1115.0 L1570.5,1121.6 L1573.8,1130.5 L1577.1,1136.1 L1580.5,1139.4 L1584.9,1140.5 L1589.4,1141.6 L1592.7,1143.8 L1596.0,1148.3 L1599.3,1152.7 L1602.7,1154.9 L1606.0,1156.0 L1609.3,1158.3 L1612.7,1160.5 L1616.0,1162.7 L1619.3,1166.0 L1622.7,1167.1 L1626.0,1164.9 L1629.3,1163.8 L1632.7,1164.9 L1636.0,1167.1 L1639.3,1169.4 L1642.6,1170.5 L1646.0,1169.4 L1649.3,1169.4 L1652.6,1168.3 L1656.0,1167.1 L1659.3,1170.5 L1662.6,1171.6 L1666.0,1169.4 L1669.3,1167.1 L1672.6,1166.0 L1675.9,1168.3 L1679.3,1169.4 L1682.6,1172.7 L1685.9,1174.9 L1689.3,1179.4 L1692.6,1186.0 L1695.9,1188.2 L1699.3,1187.1 L1702.6,1181.6 L1705.9,1176.0 L1709.3,1173.8 L1712.6,1170.5 L1715.9,1170.5 L1719.2,1171.6 L1722.6,1173.8 L1724.8,1172.7" stroke="#048004" stroke-width="6.99" fill="none" stroke-linejoin="round" stroke-linecap="round"/>
<path d="M74.6,401.7 L78.3,397.6 L80.5,392.1 L82.8,399.8 L85.0,395.4 L87.2,397.6 L89.4,395.4 L91.6,396.5 L95.0,398.7 L98.3,395.4 L101.6,393.2 L105.0,380.9 L109.4,376.5 L113.8,375.4 L118.3,375.4 L122.7,378.7 L127.2,379.8 L129.4,378.7 L131.6,385.4 L133.8,398.7 L138.3,404.9 L142.7,402.0 L147.2,392.1 L150.5,378.7 L153.8,382.1 L157.1,387.6 L160.5,385.4 L164.9,383.2 L168.2,376.5 L171.6,365.4 L174.9,362.1 L178.2,365.4 L181.6,369.8 L184.9,383.2 L188.2,384.3 L192.7,393.2 L196.0,388.7 L199.3,383.2 L202.7,380.9 L206.0,384.3 L209.3,383.2 L211.5,390.9 L216.0,393.2 L220.4,396.5 L223.8,399.8 L227.1,397.6 L230.4,399.8 L233.7,397.6 L237.1,398.7 L240.4,400.9 L243.7,400.9 L247.1,403.2 L250.4,406.5 L253.7,404.3 L255.9,397.6 L259.3,402.0 L262.6,409.8 L267.1,416.5 L270.4,429.8 L273.7,435.3 L278.2,434.2 L282.6,430.9 L287.0,429.8 L291.5,428.7 L295.9,426.5 L300.4,424.2 L304.8,426.5 L309.2,427.6 L313.7,428.7 L318.1,427.6 L322.6,430.9 L327.0,434.2 L331.4,436.5 L335.9,437.6 L340.3,440.9 L344.8,444.2 L349.2,448.7 L353.6,449.3 L357.0,450.9 L359.9,454.2 L363.6,448.7 L367.0,446.4 L371.4,443.1 L375.8,436.5 L380.3,437.6 L384.7,434.2 L389.2,433.1 L392.5,428.7 L395.8,432.0 L400.3,433.1 L404.7,434.2 L408.0,436.5 L411.4,434.2 L415.8,435.3 L420.3,432.0 L424.7,429.8 L429.1,428.0 L431.4,427.1" stroke="#0404f4" stroke-width="2.6" fill="none" stroke-linejoin="round" stroke-linecap="round"/>
<path d="M485.2,404.1 L488.3,407.3 L491.7,411.7 L495.0,409.5 L498.3,408.4 L501.6,392.8 L505.0,391.7 L508.3,392.8 L511.6,389.5 L513.9,387.3 L516.1,392.8 L519.4,401.7 L522.7,406.2 L526.1,412.8 L529.4,419.5 L531.6,406.2 L534.9,402.8 L539.4,401.7 L543.8,399.5 L547.2,403.9 L550.5,411.7 L553.8,412.8 L557.2,408.4 L560.5,410.6 L563.8,411.7 L568.3,412.8 L572.7,417.3 L576.0,419.5 L579.4,412.8 L583.8,406.2 L587.1,402.8 L590.5,400.6 L593.8,409.5 L597.1,403.9 L601.6,402.8 L606.0,401.7 L609.3,399.5 L612.7,406.2 L617.1,406.2 L621.5,408.4 L626.0,412.8 L630.4,417.3 L633.8,419.5 L637.1,412.8 L640.4,409.5 L643.7,406.2 L648.2,407.3 L651.5,401.7 L654.8,398.4 L658.2,396.2 L661.5,399.5 L664.8,411.7 L668.2,428.4 L672.6,432.8 L675.9,435.0 L678.8,437.2 L681.5,433.9 L683.7,428.4 L688.2,426.1 L692.6,422.8 L697.0,420.6 L701.5,419.5 L705.9,418.4 L710.4,416.1 L713.7,410.6 L717.0,416.1 L720.3,413.9 L722.6,410.6 L727.0,416.1 L730.3,418.4 L733.7,420.6 L737.0,425.0 L741.4,417.3 L744.8,421.7 L748.1,416.1 L751.4,417.3 L754.8,420.6 L759.2,415.0 L763.6,417.3 L768.1,421.7 L772.5,417.3 L775.9,418.4 L779.2,412.8 L783.6,421.7 L788.1,419.5 L792.5,418.4 L796.9,423.9 L801.4,427.2 L805.8,428.4 L809.2,430.6 L812.5,417.3 L815.8,406.2 L820.3,402.8 L823.6,397.3 L826.9,405.0 L830.3,407.3 L834.7,408.4 L839.1,406.2 L841.4,401.7" stroke="#6a6aee" stroke-width="1.5" fill="none" stroke-linejoin="round" stroke-linecap="round"/>
<path d="M82.8,688.6 L86.1,679.7 L88.3,681.9 L91.6,675.2 L95.0,668.6 L98.3,663.0 L101.6,659.7 L105.0,658.6 L108.3,664.1 L111.6,673.0 L113.8,695.2 L117.2,701.9 L119.4,700.8 L122.7,714.1 L126.1,704.1 L129.4,688.6 L132.7,683.0 L136.1,678.6 L139.4,683.0 L142.7,688.6 L144.9,704.1 L148.3,711.9 L152.7,706.3 L156.0,704.1 L159.4,709.7 L162.7,693.0 L164.9,688.6 L167.1,701.9 L169.4,700.8 L171.6,684.1 L173.8,664.1 L176.0,659.7 L178.2,668.6 L181.6,655.3 L183.8,653.0 L186.0,666.4 L188.2,683.0 L191.6,679.7 L196.0,695.2 L198.2,701.9 L200.4,688.6 L203.8,699.7 L207.1,675.2 L210.4,666.4 L213.8,668.6 L216.0,679.7 L218.2,681.9 L220.4,695.2 L223.1,707.4 L226.0,688.6 L229.3,695.2 L232.6,686.3 L236.0,681.9 L239.3,677.5 L241.5,683.0 L243.7,655.3 L246.0,668.6 L248.2,690.8 L251.5,717.4 L253.7,757.4 L255.9,784.0 L258.2,810.7 L260.4,821.8 L263.7,810.7 L267.1,792.9 L270.4,775.2 L273.7,761.8 L278.2,748.5 L281.5,757.4 L284.8,766.3 L288.1,769.6 L291.5,779.6 L295.9,795.1 L300.4,804.0 L303.0,808.5 L305.9,801.8 L309.2,797.4 L312.6,786.3 L314.8,782.9 L318.1,785.1 L321.4,786.3 L324.8,784.0 L328.1,788.5 L331.4,772.9 L334.8,775.2 L339.2,784.0 L343.7,795.1 L347.0,797.4 L350.3,799.6 L353.6,788.5 L357.0,780.7 L361.4,778.5 L365.9,775.2 L369.2,784.0 L372.5,797.4 L375.8,799.6 L380.3,802.9 L384.7,791.8 L389.2,804.0 L393.6,804.0 L398.1,807.3 L401.4,805.1 L404.7,800.7 L408.0,797.4 L411.4,794.0 L415.8,792.9 L420.3,790.7" stroke="#0404f4" stroke-width="2.1" fill="none" stroke-linejoin="round" stroke-linecap="round"/>
<path d="M485.2,743.3 L488.4,744.1 L491.8,748.5 L496.2,756.3 L500.6,754.1 L504.0,754.1 L507.3,759.6 L510.6,757.4 L514.0,765.2 L517.3,770.7 L520.6,767.4 L524.0,768.5 L527.3,766.3 L531.7,761.8 L535.1,762.9 L538.4,766.3 L541.7,768.5 L545.1,772.9 L548.4,770.7 L551.7,769.6 L555.0,764.1 L558.4,755.2 L561.7,760.7 L565.0,762.9 L568.4,765.2 L572.8,771.8 L576.1,775.2 L579.5,770.7 L582.8,764.1 L586.1,766.3 L589.5,757.4 L592.8,756.3 L596.1,762.9 L599.4,757.4 L602.8,752.9 L606.1,757.4 L609.4,752.9 L612.8,747.4 L617.2,743.0 L620.5,737.4 L623.9,727.4 L627.2,733.0 L630.5,729.6 L633.9,736.3 L637.2,733.0 L639.4,745.2 L641.6,741.8 L645.0,749.6 L648.3,756.3 L651.6,762.9 L655.0,767.4 L658.3,779.6 L661.6,792.9 L664.9,801.8 L668.3,810.7 L671.6,816.2 L674.9,814.0 L677.2,815.1 L680.5,806.2 L683.8,800.7 L687.2,796.2 L690.5,794.0 L693.8,788.5 L697.1,788.5 L700.5,790.7 L703.8,787.4 L706.0,786.3 L708.2,792.9 L710.5,795.1 L712.7,791.8 L714.9,788.5 L718.2,794.0 L721.6,790.7 L724.9,788.5 L728.2,790.7 L731.6,797.4 L734.9,794.0 L738.2,798.5 L741.6,802.9 L744.9,808.5 L749.3,814.0 L752.7,818.4 L756.0,820.7 L759.3,819.6 L762.6,821.8 L767.1,824.0 L771.5,824.0 L774.9,826.2 L778.2,827.3 L781.5,825.1 L784.8,824.0 L789.3,824.0 L793.7,820.7 L798.2,820.7 L802.6,821.8 L807.1,822.9 L810.4,825.1 L813.7,822.9 L818.2,820.7 L822.6,819.6 L825.9,818.4 L829.3,819.6 L833.7,820.7 L840.4,821.3" stroke="#0404f4" stroke-width="3.2" fill="none" stroke-linejoin="round" stroke-linecap="round"/>
<path d="M74.6,1076.0 L75.2,1072.9 L77.4,1069.6 L80.8,1072.9 L83.0,1070.7 L86.3,1068.5 L88.5,1077.3 L91.9,1092.9 L95.2,1091.8 L98.5,1089.6 L100.7,1095.1 L104.1,1098.4 L106.3,1086.2 L109.6,1084.0 L113.0,1085.1 L116.3,1081.8 L119.6,1086.2 L121.8,1098.4 L125.2,1095.1 L128.5,1104.0 L130.7,1108.4 L134.1,1099.5 L137.4,1091.8 L140.7,1088.4 L144.0,1087.3 L147.4,1090.7 L150.7,1099.5 L154.0,1108.4 L157.4,1108.4 L160.7,1110.6 L164.0,1112.9 L167.4,1115.1 L170.7,1117.3 L172.9,1110.6 L175.1,1121.7 L178.5,1125.1 L181.8,1130.6 L185.1,1129.5 L187.3,1139.5 L189.1,1148.4 L191.8,1130.6 L195.1,1128.4 L198.4,1125.1 L201.8,1108.4 L204.7,1130.6 L208.4,1128.4 L211.8,1119.5 L214.0,1115.1 L216.2,1121.7 L219.5,1130.6 L222.9,1141.7 L226.2,1148.4 L228.4,1166.2 L231.7,1188.4 L235.1,1199.5 L238.4,1205.0 L242.8,1207.2 L247.3,1210.6 L250.6,1207.2 L253.9,1206.1 L257.3,1201.7 L260.6,1197.2 L263.9,1193.9 L267.3,1197.2 L270.6,1199.5 L275.0,1202.8 L278.4,1200.6 L282.8,1196.1 L287.3,1193.9 L291.7,1196.1 L295.0,1200.6 L298.4,1203.9 L301.7,1201.7 L305.0,1192.8 L308.3,1188.4 L311.7,1185.0 L315.0,1181.7 L318.3,1186.1 L321.7,1192.8 L325.0,1197.2 L328.3,1203.9 L331.2,1210.6 L333.9,1206.1 L337.2,1203.9 L340.5,1199.5 L343.9,1196.1 L347.2,1197.2 L351.6,1196.1 L356.1,1196.1 L360.5,1195.0 L365.0,1193.9 L369.4,1192.8 L373.8,1195.0 L378.3,1192.8 L382.7,1195.0 L387.2,1196.1 L391.6,1193.9 L396.1,1188.4 L398.3,1181.7 L400.5,1172.8 L402.7,1169.5 L406.0,1169.5 L408.3,1171.7 L411.6,1168.4 L414.9,1172.8 L418.3,1180.6 L420.9,1172.8 L423.8,1177.3 L427.1,1183.9 L431.6,1173.9" stroke="#0404f4" stroke-width="4.3" fill="none" stroke-linejoin="round" stroke-linecap="round"/>
<path d="M486.7,1132.8 L489.2,1139.5 L492.5,1145.1 L497.0,1146.2 L500.3,1141.7 L503.6,1139.5 L507.0,1137.3 L510.3,1141.7 L513.6,1143.9 L517.0,1146.2 L520.3,1140.6 L523.6,1141.7 L527.0,1146.2 L530.3,1152.8 L533.6,1159.5 L536.9,1166.2 L540.3,1172.8 L543.6,1166.2 L548.1,1160.6 L552.5,1152.8 L555.8,1146.2 L559.2,1139.5 L562.5,1137.3 L565.8,1135.1 L569.1,1131.7 L572.5,1135.1 L575.8,1140.6 L579.1,1138.4 L582.5,1141.7 L585.8,1148.4 L589.1,1151.7 L592.5,1150.6 L595.8,1160.6 L599.1,1168.4 L603.6,1177.3 L606.9,1186.1 L610.2,1181.7 L614.7,1177.3 L619.1,1173.9 L623.5,1172.8 L628.0,1173.9 L631.3,1171.7 L634.6,1168.4 L638.0,1170.6 L641.3,1172.8 L645.7,1176.1 L650.2,1180.6 L654.6,1181.7 L659.1,1186.1 L663.5,1191.7 L667.9,1197.2 L672.4,1201.7 L676.8,1205.0 L681.3,1206.1 L684.6,1209.4 L687.9,1203.9 L692.4,1199.5 L696.8,1193.9 L700.1,1198.3 L703.5,1202.8 L707.9,1206.1 L712.4,1208.3 L715.7,1210.6 L719.0,1206.1 L723.5,1205.0 L727.9,1205.0 L732.3,1203.9 L736.8,1200.6 L741.2,1199.5 L745.7,1197.2 L749.0,1193.9 L753.4,1198.3 L757.9,1201.7 L762.3,1206.1 L765.6,1203.9 L770.1,1199.5 L774.5,1197.2 L779.0,1200.6 L783.4,1203.9 L787.8,1206.1 L792.3,1203.9 L796.7,1202.8 L801.2,1203.9 L805.6,1202.8 L810.1,1199.5 L814.5,1196.1 L818.9,1193.9 L823.4,1195.0 L827.8,1198.3 L832.3,1200.6 L835.6,1205.0 L838.9,1195.0 L843.4,1191.7 L847.8,1192.8" stroke="#0404f4" stroke-width="10" fill="none" stroke-linejoin="round" stroke-linecap="round"/>
<path d="M951.9,398.1 L953.1,396.3 L956.4,405.2 L958.7,411.8 L962.0,408.5 L965.3,406.3 L968.6,408.5 L972.0,404.0 L975.3,400.7 L978.6,405.2 L982.0,404.0 L985.3,406.3 L988.6,412.9 L990.8,418.5 L994.2,410.7 L997.5,408.5 L1000.8,406.3 L1004.2,404.0 L1007.5,402.9 L1009.7,408.5 L1013.1,415.1 L1016.4,417.4 L1019.7,410.7 L1023.0,408.5 L1026.4,396.3 L1029.7,387.4 L1031.9,382.9 L1034.1,388.5 L1036.4,392.9 L1038.6,392.9 L1041.9,402.9 L1045.2,409.6 L1048.6,414.0 L1051.9,411.8 L1055.2,407.4 L1058.6,405.2 L1061.9,410.7 L1065.2,400.7 L1067.4,392.9 L1070.8,390.7 L1073.0,385.2 L1075.2,384.1 L1077.9,391.8 L1080.8,405.2 L1084.1,416.3 L1087.4,422.9 L1090.8,424.0 L1094.1,420.7 L1097.4,417.4 L1100.8,418.5 L1104.1,420.7 L1107.4,424.0 L1110.7,420.7 L1114.1,410.7 L1117.4,408.5 L1120.7,407.4 L1124.1,406.3 L1128.5,408.5 L1131.8,407.4 L1135.2,409.6 L1138.5,410.7 L1141.8,422.9 L1145.2,434.0 L1148.5,438.5 L1151.8,442.9 L1155.2,447.3 L1158.5,447.3 L1161.8,446.2 L1165.1,445.1 L1167.4,447.3 L1170.7,445.1 L1174.0,440.7 L1176.2,438.5 L1179.6,440.7 L1181.8,438.5 L1185.1,445.1 L1189.6,445.1 L1192.9,436.2 L1196.2,434.0 L1199.6,429.6 L1202.9,425.1 L1206.2,430.7 L1209.6,427.4 L1212.9,425.1 L1217.3,425.1 L1220.7,425.1 L1224.0,422.9 L1227.3,429.6 L1230.6,434.0 L1234.0,429.6 L1237.3,420.7 L1241.7,411.8 L1245.1,405.2 L1248.4,396.3 L1251.7,392.9 L1255.1,397.4 L1258.4,399.6 L1261.7,401.8 L1265.1,399.6 L1268.4,406.3 L1271.7,402.9 L1275.1,397.4 L1278.4,406.3 L1281.7,399.6 L1285.0,392.9 L1288.4,396.3 L1291.7,399.6 L1295.0,395.2 L1298.4,391.8 L1301.7,389.6 L1305.0,396.3 L1308.4,396.3" stroke="#0404f4" stroke-width="2.0" fill="none" stroke-linejoin="round" stroke-linecap="round"/>
<path d="M1361.2,401.9 L1363.2,391.8 L1366.5,380.7 L1369.9,389.6 L1373.2,399.6 L1376.5,400.7 L1378.8,411.8 L1382.1,419.6 L1385.4,411.8 L1388.7,410.7 L1392.1,405.2 L1395.4,400.7 L1398.7,407.4 L1402.1,410.7 L1405.4,418.5 L1408.7,414.0 L1412.1,410.7 L1415.4,407.4 L1418.7,410.7 L1420.9,411.8 L1424.3,404.0 L1427.6,405.2 L1430.9,400.7 L1433.2,398.5 L1436.5,402.9 L1439.8,408.5 L1443.1,412.9 L1446.5,414.0 L1449.8,404.0 L1453.1,405.2 L1456.5,402.9 L1459.8,399.6 L1463.1,400.7 L1466.5,396.3 L1470.9,395.2 L1473.1,408.5 L1476.4,409.6 L1479.8,409.6 L1483.1,406.3 L1486.4,408.5 L1489.8,411.8 L1493.1,416.3 L1496.4,427.4 L1498.7,425.1 L1500.9,414.0 L1503.1,400.7 L1506.4,386.3 L1509.8,388.5 L1512.0,382.9 L1515.3,389.6 L1518.6,405.2 L1522.0,416.3 L1525.3,412.9 L1528.6,418.5 L1532.0,420.7 L1535.3,422.9 L1539.7,421.8 L1544.2,427.4 L1548.6,431.8 L1551.9,436.2 L1555.3,440.7 L1558.6,442.9 L1561.9,439.6 L1565.3,438.5 L1568.6,442.9 L1571.9,444.0 L1575.3,441.8 L1578.6,437.3 L1583.0,438.5 L1586.4,437.3 L1589.7,438.5 L1593.0,440.7 L1596.3,435.1 L1599.7,430.7 L1603.0,427.4 L1606.3,427.4 L1609.7,431.8 L1613.0,436.2 L1616.3,445.1 L1619.7,440.7 L1623.0,439.6 L1626.3,437.3 L1629.7,432.9 L1633.0,429.6 L1636.3,427.4 L1639.6,426.2 L1643.0,427.4 L1646.3,428.5 L1649.6,431.8 L1653.0,434.0 L1656.3,436.2 L1659.6,437.3 L1663.0,432.9 L1666.3,431.8 L1669.6,428.5 L1672.9,425.1 L1676.3,424.0 L1678.5,421.8 L1681.8,424.0 L1685.2,428.5 L1688.5,431.8 L1691.8,432.9 L1695.2,436.2 L1697.4,441.8 L1699.6,434.0 L1702.9,436.2 L1706.3,432.9 L1709.6,430.7 L1712.9,434.0 L1715.1,437.3 L1717.4,437.3" stroke="#0404f4" stroke-width="1.7" fill="none" stroke-linejoin="round" stroke-linecap="round"/>
<path d="M951.9,748.5 L954.2,750.1 L957.5,754.5 L960.9,756.7 L964.2,763.4 L967.5,768.9 L970.9,766.7 L974.2,764.5 L976.4,768.9 L978.6,762.3 L982.0,761.2 L985.3,765.6 L988.6,764.5 L990.8,767.8 L994.2,775.6 L997.5,781.2 L1000.8,776.7 L1004.2,773.4 L1007.5,770.1 L1009.7,771.2 L1013.1,764.5 L1016.4,765.6 L1019.7,770.1 L1023.0,767.8 L1026.4,768.9 L1029.7,772.3 L1033.0,774.5 L1036.4,776.7 L1039.7,777.8 L1043.0,776.7 L1046.4,778.9 L1049.7,772.3 L1053.0,774.5 L1056.3,777.8 L1059.7,783.4 L1063.0,777.8 L1067.4,777.8 L1070.8,777.8 L1074.1,774.5 L1077.4,781.2 L1080.8,778.9 L1084.1,776.7 L1087.4,773.4 L1090.8,770.1 L1094.1,768.9 L1097.4,765.6 L1100.8,757.8 L1104.1,758.9 L1107.4,761.2 L1110.7,760.1 L1114.1,766.7 L1117.4,770.1 L1120.7,763.4 L1124.1,756.7 L1127.4,754.5 L1130.7,756.7 L1132.9,767.8 L1136.3,787.8 L1140.7,801.1 L1145.2,808.9 L1148.5,806.7 L1151.8,803.4 L1155.2,801.1 L1159.6,797.8 L1164.0,796.7 L1168.5,796.7 L1172.9,795.6 L1177.4,795.6 L1181.8,794.5 L1186.2,793.4 L1190.7,794.5 L1195.1,793.4 L1199.6,792.3 L1202.9,790.0 L1207.3,787.8 L1210.7,788.9 L1214.0,792.3 L1217.3,795.6 L1220.7,800.0 L1224.0,804.5 L1227.3,807.8 L1231.8,813.3 L1235.1,811.1 L1239.5,810.0 L1244.0,805.6 L1248.4,802.2 L1252.8,800.0 L1256.2,797.8 L1258.4,790.0 L1261.7,782.3 L1265.1,781.2 L1268.4,780.0 L1270.6,776.7 L1273.9,784.5 L1277.3,781.2 L1281.7,780.0 L1285.0,778.9 L1288.4,775.6 L1291.7,782.3 L1295.0,785.6 L1298.4,786.7 L1301.7,784.5 L1303.9,785.6 L1307.2,781.2" stroke="#2a2ae0" stroke-width="1.2" fill="none" stroke-linejoin="round" stroke-linecap="round"/>
<path d="M1361.2,735.2 L1363.2,739.2 L1365.4,741.4 L1367.7,743.6 L1369.9,759.2 L1372.1,762.5 L1374.3,774.7 L1376.5,788.0 L1378.8,785.8 L1381.0,770.3 L1383.2,752.5 L1385.4,737.0 L1387.6,730.3 L1389.9,728.1 L1392.1,719.2 L1394.3,721.4 L1396.5,732.5 L1398.7,748.1 L1401.0,761.4 L1404.3,765.8 L1407.6,764.7 L1410.9,771.4 L1414.3,773.6 L1417.6,773.6 L1420.9,773.6 L1424.3,765.8 L1426.5,759.2 L1428.7,763.6 L1430.9,770.3 L1434.3,778.0 L1436.5,782.5 L1439.8,780.3 L1443.1,778.0 L1446.5,781.4 L1449.8,775.8 L1453.1,771.4 L1456.5,766.9 L1459.8,761.4 L1462.0,750.3 L1464.2,747.0 L1466.5,748.1 L1468.7,751.4 L1472.0,761.4 L1475.3,756.9 L1477.6,750.3 L1479.8,739.2 L1483.1,725.9 L1485.3,717.0 L1487.6,723.6 L1489.8,739.2 L1493.1,754.7 L1496.4,772.5 L1499.8,775.8 L1503.1,773.6 L1506.4,780.3 L1509.8,793.6 L1513.1,792.5 L1516.4,782.5 L1519.7,775.8 L1523.1,763.6 L1526.4,754.7 L1528.6,741.4 L1532.0,739.2 L1534.2,728.1 L1536.4,723.6 L1538.6,730.3 L1540.8,741.4 L1543.1,752.5 L1546.4,769.2 L1550.8,778.0 L1554.2,779.2 L1557.5,784.7 L1560.8,778.0 L1564.2,785.8 L1567.5,779.2 L1570.8,784.7 L1574.1,798.0 L1577.5,789.1 L1580.8,785.8 L1584.1,779.2 L1587.5,772.5 L1589.7,771.4 L1591.9,779.2 L1595.2,790.3 L1598.6,801.4 L1601.9,808.0 L1604.1,822.4 L1607.4,814.7 L1610.8,806.9 L1615.2,799.1 L1618.6,794.7 L1621.9,802.5 L1625.2,805.8 L1628.1,814.7 L1630.8,804.7 L1634.1,798.0 L1637.4,789.1 L1640.8,783.6 L1643.0,779.2 L1645.2,786.9 L1648.5,791.4 L1650.7,784.7 L1654.1,778.0 L1657.4,775.8 L1660.7,775.8 L1664.1,774.7 L1667.4,784.7 L1669.6,794.7 L1672.9,790.3 L1676.3,782.5 L1679.6,784.7 L1682.9,780.3 L1685.2,778.0 L1688.5,794.7 L1692.9,803.6 L1697.4,808.0 L1700.7,812.5 L1704.0,808.0 L1707.4,808.0 L1710.7,805.8 L1714.0,808.0 L1717.4,809.1" stroke="#8a8af2" stroke-width="1.2" fill="none" stroke-linejoin="round" stroke-linecap="round"/>
<path d="M951.9,1132.1 L953.3,1131.6 L956.7,1131.6 L958.9,1129.4 L962.2,1143.8 L965.5,1140.5 L967.8,1137.2 L971.1,1144.9 L974.4,1149.4 L976.6,1147.2 L980.0,1152.7 L983.3,1160.5 L986.6,1156.1 L990.0,1149.4 L993.3,1144.9 L996.6,1140.5 L999.9,1135.0 L1003.3,1129.4 L1006.6,1125.0 L1009.9,1119.4 L1013.3,1122.7 L1016.6,1129.4 L1019.9,1128.3 L1023.3,1126.1 L1026.6,1125.0 L1029.9,1120.5 L1033.3,1119.4 L1036.6,1122.7 L1039.9,1122.7 L1043.2,1122.7 L1046.6,1125.0 L1049.9,1135.0 L1053.2,1144.9 L1056.6,1156.1 L1059.9,1167.2 L1062.1,1176.0 L1064.3,1184.9 L1066.6,1189.4 L1069.9,1190.5 L1073.2,1190.5 L1076.6,1189.4 L1079.9,1192.7 L1084.3,1196.0 L1088.8,1200.5 L1092.1,1203.8 L1095.4,1198.2 L1097.6,1193.8 L1101.0,1194.9 L1104.3,1197.1 L1108.7,1203.8 L1112.1,1209.3 L1115.4,1212.7 L1118.7,1214.9 L1122.1,1211.6 L1125.4,1209.3 L1128.7,1207.1 L1132.1,1204.9 L1135.4,1209.3 L1138.7,1209.3 L1142.1,1210.4 L1145.4,1208.2 L1148.7,1202.7 L1152.0,1197.1 L1155.4,1191.6 L1158.7,1187.1 L1160.9,1184.9 L1164.3,1188.2 L1167.6,1186.0 L1170.9,1189.4 L1174.2,1196.0 L1177.6,1197.1 L1180.9,1200.5 L1184.2,1201.6 L1186.5,1199.3 L1189.8,1202.7 L1193.1,1201.6 L1197.6,1203.8 L1200.9,1207.1 L1205.3,1211.6 L1209.8,1216.0 L1213.1,1213.8 L1217.5,1211.6 L1222.0,1209.3 L1226.4,1206.0 L1230.9,1203.8 L1234.2,1204.9 L1237.5,1207.1 L1240.9,1209.3 L1244.2,1204.9 L1247.5,1201.6 L1250.8,1200.5 L1255.3,1197.1 L1258.6,1200.5 L1261.9,1203.8 L1265.3,1198.2 L1268.6,1192.7 L1271.9,1188.2 L1275.3,1186.0 L1278.6,1189.4 L1281.9,1193.8 L1285.3,1202.7 L1288.6,1207.1 L1291.9,1202.7 L1295.3,1194.9 L1298.6,1196.0 L1301.9,1194.9 L1306.4,1193.8 L1309.7,1194.9" stroke="#0404f4" stroke-width="4.5" fill="none" stroke-linejoin="round" stroke-linecap="round"/>
<path d="M1364.7,1167.2 L1367.3,1178.3 L1369.5,1174.9 L1371.8,1170.5 L1375.1,1162.7 L1377.3,1153.8 L1379.5,1144.9 L1381.8,1142.7 L1384.0,1147.2 L1386.2,1152.7 L1388.4,1150.5 L1390.6,1154.9 L1394.0,1158.3 L1397.3,1151.6 L1400.6,1150.5 L1404.0,1151.6 L1407.3,1153.8 L1410.6,1154.9 L1412.8,1164.9 L1416.2,1161.6 L1418.4,1153.8 L1421.7,1153.8 L1425.1,1153.8 L1427.3,1150.5 L1429.5,1152.7 L1431.7,1158.3 L1435.0,1167.2 L1438.4,1172.7 L1441.7,1174.9 L1443.9,1169.4 L1446.1,1161.6 L1449.5,1161.6 L1451.7,1164.9 L1455.0,1161.6 L1457.2,1164.9 L1459.5,1170.5 L1461.7,1176.0 L1463.9,1180.5 L1467.2,1179.4 L1470.6,1186.0 L1473.9,1192.7 L1477.2,1193.8 L1480.6,1184.9 L1483.9,1182.7 L1487.2,1176.0 L1489.4,1173.8 L1491.7,1180.5 L1495.0,1184.9 L1498.3,1189.4 L1501.7,1186.0 L1505.0,1187.1 L1508.3,1189.4 L1511.6,1182.7 L1515.0,1186.0 L1518.3,1180.5 L1522.7,1180.5 L1526.1,1184.9 L1529.4,1191.6 L1531.6,1198.2 L1535.0,1206.0 L1538.3,1206.0 L1541.6,1203.8 L1544.9,1201.6 L1548.3,1200.5 L1551.6,1201.6 L1554.9,1198.2 L1558.3,1196.0 L1561.6,1197.1 L1564.9,1193.8 L1568.3,1192.7 L1571.6,1197.1 L1574.9,1194.9 L1578.3,1192.7 L1581.6,1191.6 L1584.9,1196.0 L1588.2,1191.6 L1591.6,1184.9 L1594.9,1186.0 L1597.1,1178.3 L1599.3,1170.5 L1601.6,1166.0 L1603.8,1172.7 L1607.1,1174.9 L1610.4,1173.8 L1613.8,1178.3 L1617.1,1180.5 L1620.4,1179.4 L1623.8,1176.0 L1627.1,1179.4 L1630.4,1182.7 L1633.8,1180.5 L1637.1,1176.0 L1640.4,1178.3 L1643.8,1172.7 L1647.1,1173.8 L1650.4,1184.9 L1653.7,1178.3 L1657.1,1172.7 L1659.3,1176.0 L1661.5,1171.6 L1663.7,1163.8 L1666.0,1161.6 L1668.2,1167.2 L1671.5,1176.0 L1674.8,1184.9 L1677.1,1196.0 L1680.4,1193.8 L1683.7,1191.6 L1687.1,1186.0 L1690.4,1184.9 L1693.7,1186.0 L1697.0,1183.8 L1700.4,1189.4 L1703.7,1187.1 L1707.0,1178.3 L1710.4,1181.6 L1713.7,1173.8 L1717.0,1167.2 L1720.4,1174.9 L1723.7,1179.4" stroke="#0404f4" stroke-width="5.8" fill="none" stroke-linejoin="round" stroke-linecap="round"/>
<path d="M409.20,215.60H410.70V360.10H482.40M409.20,288.10H410.70" stroke="#222" stroke-width="1.4" fill="none"/>
<path d="M429.60,273.50V321.40M429.60,346.20V353.00M422.60,273.50H436.60M422.60,353.00H436.60" stroke="#333" stroke-width="1.4" fill="none"/>
<rect x="414.60" y="321.40" width="29.60" height="24.80" fill="#8c8c8c" stroke="#1a1a1a" stroke-width="1.8"/>
<path d="M414.60,342.60H444.20" stroke="#1a1a1a" stroke-width="2.2"/>
<path d="M463.60,275.10V309.70M463.60,335.20V348.10M456.30,275.10H470.90M456.30,348.10H470.90" stroke="#333" stroke-width="1.4" fill="none"/>
<rect x="448.60" y="309.70" width="29.70" height="25.50" fill="#ff6a0a" stroke="#1a1a1a" stroke-width="1.8"/>
<path d="M448.60,328.60H478.30" stroke="#1a1a1a" stroke-width="2.2"/>
<text x="376.49" y="236.83" style="font-size:28.2px">20</text>
<text x="376.49" y="301.38" style="font-size:28.2px">10</text>
<path d="M409.00,579.80H410.50V723.90H482.10M409.00,651.90H410.50" stroke="#222" stroke-width="1.4" fill="none"/>
<path d="M429.55,602.70V686.10M429.55,705.70V713.50M422.60,602.70H436.50M422.60,713.50H436.50" stroke="#333" stroke-width="1.4" fill="none"/>
<rect x="415.30" y="686.10" width="29.00" height="19.60" fill="#8c8c8c" stroke="#1a1a1a" stroke-width="1.8"/>
<path d="M415.30,697.40H444.30" stroke="#1a1a1a" stroke-width="2.2"/>
<path d="M463.80,650.00V657.50M463.80,709.80V713.50M456.90,650.00H470.70M456.90,713.50H470.70" stroke="#333" stroke-width="1.4" fill="none"/>
<rect x="448.30" y="657.50" width="30.20" height="52.30" fill="#ff6a0a" stroke="#1a1a1a" stroke-width="1.8"/>
<path d="M448.30,690.60H478.50" stroke="#1a1a1a" stroke-width="2.2"/>
<text x="376.29" y="600.08" style="font-size:28.2px">20</text>
<text x="376.29" y="665.03" style="font-size:28.2px">10</text>
<path d="M409.30,970.90H410.80V1115.50H482.90M409.30,1043.50H410.80" stroke="#222" stroke-width="1.4" fill="none"/>
<path d="M429.55,1024.10V1079.40M429.55,1099.80V1109.00M422.40,1024.10H436.70M422.40,1109.00H436.70" stroke="#333" stroke-width="1.4" fill="none"/>
<rect x="414.40" y="1079.40" width="30.60" height="20.40" fill="#8c8c8c" stroke="#1a1a1a" stroke-width="1.8"/>
<path d="M414.40,1092.50H445.00" stroke="#1a1a1a" stroke-width="2.2"/>
<path d="M464.00,999.80V1065.10M464.00,1101.30V1106.00M457.10,999.80H470.90M457.10,1106.00H470.90" stroke="#333" stroke-width="1.4" fill="none"/>
<rect x="448.60" y="1065.10" width="30.60" height="36.20" fill="#ff6a0a" stroke="#1a1a1a" stroke-width="1.8"/>
<path d="M448.60,1084.10H479.20" stroke="#1a1a1a" stroke-width="2.2"/>
<text x="376.59" y="992.78" style="font-size:28.2px">20</text>
<text x="376.59" y="1058.53" style="font-size:28.2px">10</text>
<path d="M1283.10,216.70H1284.60V360.20H1356.00M1283.10,288.20H1284.60" stroke="#222" stroke-width="1.4" fill="none"/>
<path d="M1303.30,318.60V331.00M1303.30,345.50V350.70M1296.00,318.60H1310.60M1296.00,350.70H1310.60" stroke="#333" stroke-width="1.4" fill="none"/>
<rect x="1288.50" y="331.00" width="29.90" height="14.50" fill="#8c8c8c" stroke="#1a1a1a" stroke-width="1.8"/>
<path d="M1288.50,338.40H1318.40" stroke="#1a1a1a" stroke-width="2.2"/>
<path d="M1337.35,231.60V307.00M1337.35,345.00V346.80M1330.00,231.60H1344.70M1330.00,346.80H1344.70" stroke="#333" stroke-width="1.4" fill="none"/>
<rect x="1322.50" y="307.00" width="30.00" height="38.00" fill="#ff6a0a" stroke="#1a1a1a" stroke-width="1.8"/>
<path d="M1322.50,337.10H1352.50" stroke="#1a1a1a" stroke-width="2.2"/>
<text x="1250.38" y="237.78" style="font-size:28.2px">20</text>
<text x="1250.38" y="301.73" style="font-size:28.2px">10</text>
<path d="M1282.70,581.40H1284.20V724.80H1356.00M1282.70,652.80H1284.20" stroke="#222" stroke-width="1.4" fill="none"/>
<path d="M1302.90,691.40V709.40M1302.90,709.40V720.00M1295.90,691.40H1309.90M1295.90,720.00H1309.90" stroke="#333" stroke-width="1.4" fill="none"/>
<path d="M1288.50,709.40H1318.00" stroke="#1a1a1a" stroke-width="2.2"/>
<path d="M1337.25,674.50V688.40M1337.25,709.90V713.90M1330.00,674.50H1344.50M1330.00,713.90H1344.50" stroke="#333" stroke-width="1.4" fill="none"/>
<rect x="1322.50" y="688.40" width="29.90" height="21.50" fill="#ff6a0a" stroke="#1a1a1a" stroke-width="1.8"/>
<path d="M1322.50,705.10H1352.40" stroke="#1a1a1a" stroke-width="2.2"/>
<text x="1249.98" y="600.63" style="font-size:28.2px">20</text>
<text x="1249.98" y="665.28" style="font-size:28.2px">10</text>
<path d="M1282.50,972.40H1284.00V1116.30H1356.80M1282.50,1044.30H1284.00" stroke="#222" stroke-width="1.4" fill="none"/>
<path d="M1303.60,1063.10V1075.80M1303.60,1100.50V1102.40M1296.70,1063.10H1310.50M1296.70,1102.40H1310.50" stroke="#333" stroke-width="1.4" fill="none"/>
<rect x="1289.00" y="1075.80" width="29.20" height="24.70" fill="#8c8c8c" stroke="#1a1a1a" stroke-width="1.8"/>
<path d="M1289.00,1085.20H1318.20" stroke="#1a1a1a" stroke-width="2.2"/>
<path d="M1337.70,1013.90V1094.70M1337.70,1105.60V1106.80M1330.60,1013.90H1344.80M1330.60,1106.80H1344.80" stroke="#333" stroke-width="1.4" fill="none"/>
<rect x="1322.50" y="1094.70" width="30.50" height="10.90" fill="#ff6a0a" stroke="#1a1a1a" stroke-width="1.8"/>
<path d="M1322.50,1097.60H1353.00" stroke="#1a1a1a" stroke-width="2.2"/>
<text x="1249.78" y="992.78" style="font-size:28.2px">20</text>
<text x="1249.78" y="1057.43" style="font-size:28.2px">10</text>
<text transform="translate(400.72,1137.30) scale(0.9542,1)" style="font-size:22.71px;" fill="#000" >CON</text>
<text transform="translate(450.60,1137.40) scale(0.9385,1)" style="font-size:22.46px;" fill="#000" >AIE</text>
<text transform="translate(1276.02,1137.30) scale(0.9479,1)" style="font-size:22.71px;" fill="#000" >CON</text>
<text transform="translate(1325.60,1137.40) scale(0.9385,1)" style="font-size:22.46px;" fill="#000" >AIE</text>
</svg></body></html>
